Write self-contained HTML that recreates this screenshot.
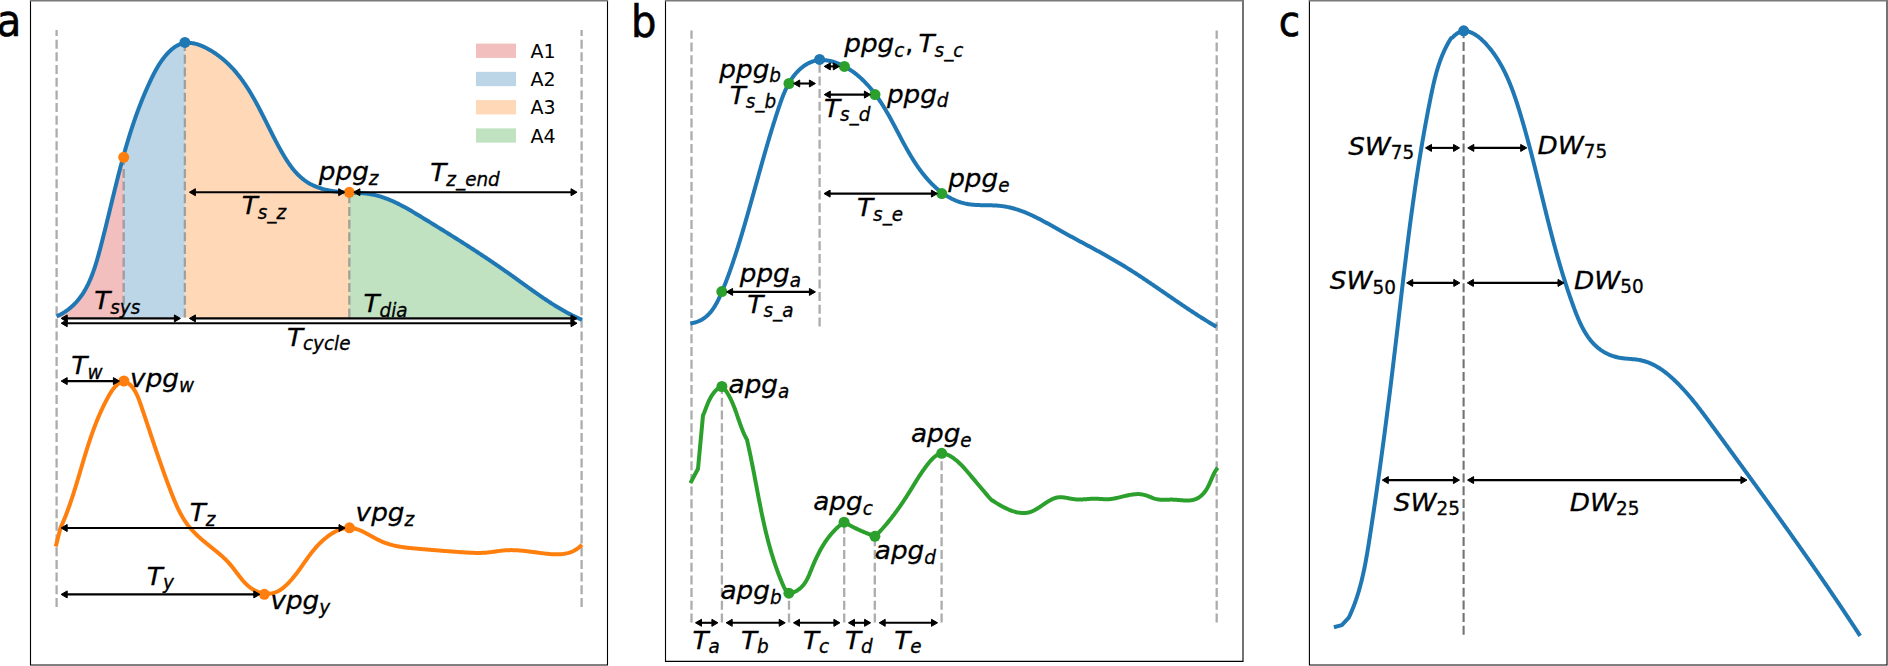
<!DOCTYPE html>
<html><head><meta charset="utf-8"><style>
html,body{margin:0;padding:0;background:#fff;overflow:hidden;}
svg{display:block;}
text{font-family:'DejaVu Sans',sans-serif;fill:#000;}
text.m{stroke:#000;stroke-width:0.3px;}
</style></head><body>
<svg width="1888" height="666" viewBox="0 0 1888 666">
<rect x="0" y="0" width="1888" height="666" fill="#fff"/>
<path d="M30.5,0 V665.0 H607.5 V0" fill="none" stroke="#000" stroke-width="1.1"/>
<rect x="29.95" y="0" width="578.1" height="1.5" fill="#7a7a7a"/>
<path d="M665.5,0 V661.4 H1243.0 V0" fill="none" stroke="#000" stroke-width="1.1"/>
<rect x="664.95" y="0" width="578.6" height="1.5" fill="#7a7a7a"/>
<path d="M1309.4,0 V665.0 H1887.0 V0" fill="none" stroke="#000" stroke-width="1.1"/>
<rect x="1308.8500000000001" y="0" width="578.6999999999999" height="1.5" fill="#7a7a7a"/>
<text x="-3.17" y="36.40" style="font-family:'DejaVu Sans Condensed',sans-serif;font-size:44.5px;font-weight:normal;stroke:#000;stroke-width:0.6px;">a</text>
<text x="630.96" y="36.60" style="font-family:'DejaVu Sans Condensed',sans-serif;font-size:44.5px;font-weight:normal;stroke:#000;stroke-width:0.6px;">b</text>
<text x="1278.82" y="36.00" style="font-family:'DejaVu Sans Condensed',sans-serif;font-size:43.2px;font-weight:normal;stroke:#000;stroke-width:0.6px;">c</text>
<path d="M56.50,317.50 L56.50,316.32 L56.63,316.32 L57.62,315.88 L58.59,315.41 L59.54,314.94 L60.48,314.45 L61.40,313.95 L62.31,313.44 L63.20,312.91 L64.07,312.38 L64.93,311.83 L65.78,311.27 L66.61,310.69 L67.43,310.11 L68.23,309.51 L69.02,308.91 L69.79,308.29 L70.56,307.66 L71.30,307.02 L72.04,306.37 L72.76,305.71 L73.47,305.04 L74.16,304.36 L74.85,303.67 L75.52,302.97 L76.18,302.26 L76.82,301.54 L77.46,300.81 L78.08,300.07 L78.69,299.32 L79.30,298.57 L79.88,297.80 L80.46,297.03 L81.03,296.25 L81.59,295.46 L82.14,294.66 L82.67,293.85 L83.20,293.04 L83.72,292.22 L84.22,291.39 L84.72,290.56 L85.21,289.72 L85.69,288.87 L86.16,288.01 L86.62,287.15 L87.07,286.28 L87.52,285.41 L87.96,284.53 L88.38,283.64 L88.80,282.75 L89.22,281.85 L89.62,280.95 L90.02,280.04 L90.41,279.13 L90.80,278.21 L91.18,277.28 L91.55,276.36 L91.91,275.42 L92.27,274.49 L92.62,273.55 L92.97,272.60 L93.31,271.65 L93.65,270.70 L93.98,269.75 L94.30,268.79 L94.63,267.83 L94.94,266.86 L95.25,265.90 L95.56,264.93 L95.86,263.95 L96.16,262.98 L96.46,262.00 L96.75,261.02 L97.04,260.04 L97.32,259.06 L97.60,258.07 L97.88,257.09 L98.16,256.10 L98.43,255.11 L98.70,254.13 L98.97,253.14 L99.24,252.15 L99.51,251.16 L99.77,250.17 L100.03,249.18 L100.29,248.19 L100.55,247.20 L100.81,246.21 L101.07,245.22 L101.33,244.23 L101.58,243.24 L101.84,242.25 L102.09,241.26 L102.35,240.27 L102.60,239.29 L102.85,238.30 L103.10,237.31 L103.35,236.32 L103.60,235.34 L103.85,234.35 L104.10,233.36 L104.34,232.38 L104.59,231.39 L104.84,230.41 L105.08,229.42 L105.33,228.44 L105.57,227.45 L105.81,226.47 L106.06,225.49 L106.30,224.50 L106.54,223.52 L106.78,222.54 L107.02,221.55 L107.26,220.57 L107.50,219.59 L107.74,218.61 L107.98,217.63 L108.22,216.64 L108.46,215.66 L108.69,214.68 L108.93,213.70 L109.17,212.72 L109.41,211.74 L109.64,210.77 L109.88,209.79 L110.12,208.81 L110.36,207.83 L110.59,206.85 L110.83,205.88 L111.06,204.90 L111.30,203.92 L111.54,202.95 L111.77,201.97 L112.01,200.99 L112.25,200.02 L112.48,199.04 L112.72,198.07 L112.96,197.09 L113.19,196.12 L113.43,195.15 L113.67,194.17 L113.91,193.20 L114.14,192.23 L114.38,191.26 L114.62,190.28 L114.86,189.31 L115.10,188.34 L115.34,187.37 L115.58,186.40 L115.82,185.43 L116.06,184.46 L116.30,183.49 L116.54,182.52 L116.78,181.56 L117.03,180.59 L117.27,179.62 L117.51,178.65 L117.76,177.69 L118.00,176.72 L118.25,175.75 L118.49,174.79 L118.74,173.82 L118.99,172.86 L119.24,171.89 L119.49,170.93 L119.74,169.97 L119.99,169.00 L120.24,168.04 L120.49,167.08 L120.74,166.12 L121.00,165.16 L121.25,164.19 L121.51,163.23 L121.77,162.27 L122.02,161.31 L122.28,160.35 L122.54,159.40 L122.81,158.44 L123.07,157.48 L123.33,156.52 L123.60,155.56 L123.70,155.19 L123.70,317.50 Z" fill="#f3bebe" stroke="none"/>
<path d="M123.70,317.50 L123.70,155.19 L123.86,154.61 L124.13,153.65 L124.40,152.69 L124.67,151.74 L124.94,150.78 L125.21,149.83 L125.48,148.88 L125.76,147.92 L126.03,146.97 L126.31,146.02 L126.59,145.06 L126.87,144.11 L127.15,143.16 L127.43,142.21 L127.72,141.26 L128.00,140.31 L128.29,139.36 L128.58,138.41 L128.87,137.46 L129.16,136.51 L129.45,135.57 L129.75,134.62 L130.05,133.67 L130.35,132.73 L130.65,131.78 L130.95,130.83 L131.25,129.89 L131.56,128.95 L131.87,128.00 L132.18,127.06 L132.49,126.12 L132.80,125.17 L133.12,124.23 L133.43,123.29 L133.75,122.35 L134.07,121.41 L134.40,120.47 L134.72,119.53 L135.05,118.59 L135.38,117.65 L135.71,116.71 L136.04,115.78 L136.38,114.84 L136.72,113.90 L137.06,112.97 L137.40,112.03 L137.74,111.10 L138.09,110.16 L138.44,109.23 L138.79,108.30 L139.14,107.37 L139.50,106.43 L139.86,105.50 L140.22,104.57 L140.58,103.64 L140.95,102.71 L141.31,101.78 L141.68,100.85 L142.06,99.92 L142.43,99.00 L142.81,98.07 L143.19,97.14 L143.57,96.22 L143.96,95.29 L144.35,94.37 L144.74,93.44 L145.13,92.52 L145.53,91.59 L145.93,90.67 L146.33,89.75 L146.74,88.83 L147.15,87.91 L147.56,86.99 L147.97,86.07 L148.39,85.15 L148.81,84.23 L149.23,83.31 L149.65,82.39 L150.08,81.47 L150.51,80.56 L150.95,79.64 L151.39,78.73 L151.83,77.81 L152.27,76.90 L152.73,75.99 L153.18,75.08 L153.64,74.17 L154.11,73.27 L154.58,72.37 L155.06,71.47 L155.55,70.57 L156.04,69.68 L156.55,68.79 L157.06,67.90 L157.58,67.02 L158.10,66.14 L158.64,65.27 L159.19,64.40 L159.74,63.54 L160.31,62.68 L160.89,61.82 L161.47,60.98 L162.07,60.13 L162.69,59.30 L163.31,58.47 L163.95,57.64 L164.60,56.83 L165.26,56.02 L165.94,55.21 L166.62,54.42 L167.33,53.64 L168.04,52.88 L168.77,52.13 L169.51,51.40 L170.26,50.68 L171.02,49.99 L171.79,49.32 L172.58,48.67 L173.37,48.05 L174.18,47.46 L174.99,46.89 L175.82,46.36 L176.65,45.86 L177.50,45.39 L178.35,44.96 L179.22,44.57 L180.09,44.22 L180.97,43.90 L181.86,43.63 L182.76,43.41 L183.66,43.22 L184.57,43.06 L184.90,43.02 L184.90,317.50 Z" fill="#bcd6e8" stroke="none"/>
<path d="M184.90,317.50 L184.90,43.02 L185.49,42.95 L186.41,42.88 L187.34,42.83 L188.27,42.83 L189.21,42.86 L190.15,42.92 L191.09,43.01 L192.04,43.13 L192.99,43.28 L193.94,43.46 L194.89,43.67 L195.84,43.91 L196.79,44.17 L197.74,44.46 L198.70,44.77 L199.64,45.10 L200.59,45.45 L201.54,45.83 L202.48,46.22 L203.42,46.64 L204.35,47.07 L205.28,47.52 L206.21,47.98 L207.13,48.46 L208.05,48.96 L208.95,49.46 L209.85,49.98 L210.75,50.51 L211.63,51.05 L212.51,51.59 L213.38,52.15 L214.24,52.71 L215.09,53.28 L215.93,53.86 L216.77,54.44 L217.59,55.04 L218.41,55.63 L219.21,56.24 L220.01,56.85 L220.80,57.47 L221.59,58.10 L222.36,58.73 L223.13,59.37 L223.89,60.02 L224.64,60.67 L225.38,61.33 L226.12,61.99 L226.84,62.66 L227.57,63.34 L228.28,64.02 L228.99,64.71 L229.69,65.41 L230.38,66.11 L231.06,66.82 L231.74,67.53 L232.42,68.25 L233.08,68.97 L233.74,69.70 L234.39,70.43 L235.04,71.17 L235.68,71.92 L236.32,72.67 L236.95,73.42 L237.57,74.18 L238.19,74.94 L238.80,75.71 L239.40,76.49 L240.00,77.27 L240.60,78.05 L241.19,78.84 L241.77,79.63 L242.35,80.42 L242.93,81.22 L243.50,82.03 L244.06,82.84 L244.62,83.65 L245.18,84.47 L245.73,85.29 L246.28,86.11 L246.82,86.94 L247.36,87.77 L247.89,88.60 L248.42,89.44 L248.95,90.28 L249.47,91.13 L249.99,91.97 L250.51,92.83 L251.02,93.68 L251.53,94.54 L252.04,95.40 L252.54,96.26 L253.04,97.13 L253.54,97.99 L254.03,98.86 L254.52,99.74 L255.01,100.61 L255.49,101.49 L255.98,102.37 L256.46,103.25 L256.94,104.14 L257.41,105.02 L257.89,105.91 L258.36,106.80 L258.83,107.69 L259.30,108.59 L259.77,109.48 L260.24,110.38 L260.70,111.28 L261.16,112.18 L261.62,113.08 L262.08,113.98 L262.54,114.88 L263.00,115.79 L263.46,116.69 L263.92,117.60 L264.37,118.51 L264.83,119.41 L265.29,120.32 L265.74,121.23 L266.20,122.14 L266.65,123.05 L267.10,123.96 L267.56,124.87 L268.01,125.78 L268.47,126.70 L268.92,127.61 L269.38,128.52 L269.84,129.43 L270.29,130.34 L270.75,131.25 L271.21,132.16 L271.67,133.07 L272.13,133.98 L272.59,134.89 L273.05,135.80 L273.52,136.70 L273.98,137.61 L274.45,138.51 L274.92,139.42 L275.39,140.32 L275.86,141.22 L276.34,142.13 L276.81,143.03 L277.29,143.92 L277.77,144.82 L278.26,145.72 L278.74,146.61 L279.23,147.50 L279.72,148.39 L280.21,149.28 L280.71,150.17 L281.21,151.05 L281.71,151.93 L282.22,152.81 L282.73,153.69 L283.24,154.57 L283.76,155.44 L284.28,156.31 L284.80,157.17 L285.33,158.03 L285.86,158.89 L286.40,159.74 L286.95,160.58 L287.50,161.43 L288.05,162.26 L288.62,163.09 L289.18,163.91 L289.76,164.72 L290.34,165.53 L290.93,166.33 L291.52,167.13 L292.12,167.91 L292.73,168.69 L293.35,169.45 L293.98,170.21 L294.61,170.96 L295.25,171.70 L295.90,172.43 L296.56,173.15 L297.23,173.85 L297.91,174.55 L298.60,175.23 L299.30,175.91 L300.01,176.57 L300.72,177.22 L301.45,177.85 L302.19,178.47 L302.95,179.08 L303.71,179.68 L304.48,180.26 L305.27,180.83 L306.07,181.38 L306.88,181.92 L307.70,182.44 L308.53,182.94 L309.38,183.43 L310.24,183.91 L311.11,184.37 L311.98,184.82 L312.87,185.25 L313.77,185.67 L314.68,186.07 L315.60,186.46 L316.52,186.83 L317.46,187.19 L318.40,187.54 L319.35,187.87 L320.30,188.19 L321.26,188.49 L322.23,188.79 L323.20,189.07 L324.18,189.33 L325.17,189.58 L326.16,189.82 L327.15,190.05 L328.14,190.27 L329.14,190.47 L330.14,190.66 L331.15,190.83 L332.16,191.00 L333.16,191.15 L334.17,191.29 L335.18,191.43 L336.20,191.55 L337.21,191.66 L338.22,191.76 L339.24,191.85 L340.25,191.94 L341.27,192.02 L342.28,192.09 L343.30,192.15 L344.32,192.21 L345.33,192.27 L346.35,192.32 L347.36,192.37 L348.38,192.42 L349.30,192.46 L349.30,317.50 Z" fill="#ffd9b7" stroke="none"/>
<path d="M349.30,317.50 L349.30,192.46 L349.39,192.47 L350.41,192.51 L351.42,192.55 L352.43,192.60 L353.45,192.64 L354.46,192.69 L355.47,192.74 L356.47,192.79 L357.48,192.84 L358.48,192.90 L359.49,192.96 L360.49,193.03 L361.49,193.10 L362.48,193.19 L363.48,193.27 L364.47,193.37 L365.46,193.48 L366.44,193.59 L367.43,193.71 L368.41,193.85 L369.39,194.00 L370.36,194.15 L371.33,194.33 L372.30,194.51 L373.27,194.70 L374.23,194.91 L375.19,195.13 L376.14,195.36 L377.10,195.61 L378.05,195.86 L378.99,196.13 L379.94,196.40 L380.88,196.69 L381.81,196.99 L382.75,197.29 L383.68,197.61 L384.61,197.94 L385.54,198.27 L386.47,198.62 L387.39,198.97 L388.31,199.34 L389.23,199.71 L390.14,200.09 L391.05,200.48 L391.97,200.87 L392.87,201.28 L393.78,201.69 L394.68,202.10 L395.59,202.53 L396.49,202.96 L397.39,203.40 L398.28,203.84 L399.18,204.29 L400.07,204.75 L400.96,205.21 L401.85,205.68 L402.74,206.15 L403.63,206.63 L404.51,207.11 L405.39,207.60 L406.28,208.09 L407.16,208.58 L408.04,209.08 L408.91,209.58 L409.79,210.08 L410.67,210.59 L411.54,211.10 L412.41,211.62 L413.28,212.13 L414.16,212.65 L415.03,213.17 L415.90,213.69 L416.76,214.21 L417.63,214.74 L418.50,215.26 L419.37,215.79 L420.23,216.32 L421.10,216.84 L421.96,217.37 L422.82,217.90 L423.69,218.42 L424.55,218.95 L425.41,219.48 L426.28,220.00 L427.14,220.53 L428.00,221.06 L428.86,221.58 L429.72,222.11 L430.58,222.64 L431.44,223.16 L432.30,223.69 L433.15,224.22 L434.01,224.74 L434.87,225.27 L435.73,225.80 L436.58,226.33 L437.44,226.85 L438.29,227.38 L439.15,227.91 L440.00,228.44 L440.86,228.96 L441.71,229.49 L442.56,230.02 L443.41,230.55 L444.27,231.08 L445.12,231.61 L445.97,232.14 L446.82,232.66 L447.67,233.19 L448.52,233.72 L449.37,234.25 L450.22,234.78 L451.06,235.32 L451.91,235.85 L452.76,236.38 L453.61,236.91 L454.45,237.44 L455.30,237.97 L456.14,238.51 L456.99,239.04 L457.83,239.57 L458.68,240.11 L459.52,240.64 L460.37,241.18 L461.21,241.71 L462.05,242.25 L462.89,242.78 L463.73,243.32 L464.58,243.86 L465.42,244.40 L466.26,244.93 L467.10,245.47 L467.94,246.01 L468.77,246.55 L469.61,247.09 L470.45,247.63 L471.29,248.17 L472.13,248.72 L472.96,249.26 L473.80,249.80 L474.64,250.35 L475.47,250.89 L476.31,251.44 L477.14,251.98 L477.98,252.53 L478.81,253.07 L479.64,253.62 L480.48,254.17 L481.31,254.72 L482.14,255.27 L482.97,255.82 L483.80,256.37 L484.64,256.92 L485.47,257.48 L486.30,258.03 L487.13,258.59 L487.96,259.14 L488.79,259.70 L489.61,260.25 L490.44,260.81 L491.27,261.37 L492.10,261.93 L492.93,262.49 L493.75,263.05 L494.58,263.61 L495.40,264.18 L496.23,264.74 L497.06,265.31 L497.88,265.87 L498.71,266.44 L499.53,267.01 L500.35,267.58 L501.18,268.15 L502.00,268.72 L502.82,269.29 L503.64,269.86 L504.47,270.43 L505.29,271.01 L506.11,271.59 L506.93,272.16 L507.75,272.74 L508.57,273.32 L509.39,273.90 L510.21,274.48 L511.03,275.06 L511.85,275.65 L512.67,276.23 L513.48,276.82 L514.30,277.40 L515.12,277.99 L515.94,278.58 L516.76,279.17 L517.57,279.75 L518.39,280.34 L519.21,280.93 L520.02,281.52 L520.84,282.11 L521.66,282.70 L522.48,283.29 L523.29,283.88 L524.11,284.47 L524.93,285.06 L525.75,285.65 L526.57,286.24 L527.39,286.82 L528.21,287.41 L529.03,288.00 L529.85,288.58 L530.67,289.17 L531.49,289.75 L532.31,290.34 L533.13,290.92 L533.95,291.50 L534.77,292.08 L535.60,292.66 L536.42,293.24 L537.25,293.81 L538.07,294.39 L538.90,294.96 L539.73,295.53 L540.55,296.10 L541.38,296.67 L542.21,297.23 L543.04,297.80 L543.88,298.36 L544.71,298.92 L545.54,299.48 L546.38,300.03 L547.21,300.59 L548.05,301.14 L548.89,301.68 L549.73,302.23 L550.57,302.77 L551.41,303.31 L552.25,303.85 L553.09,304.38 L553.94,304.91 L554.79,305.44 L555.63,305.96 L556.48,306.49 L557.34,307.00 L558.19,307.52 L559.04,308.03 L559.90,308.54 L560.75,309.04 L561.61,309.54 L562.47,310.04 L563.34,310.53 L564.20,311.02 L565.07,311.50 L565.93,311.98 L566.80,312.46 L567.67,312.93 L568.55,313.40 L569.42,313.86 L570.30,314.32 L571.18,314.77 L572.06,315.22 L572.94,315.67 L573.83,316.11 L574.71,316.54 L575.60,316.97 L576.49,317.40 L577.39,317.82 L578.28,318.23 L579.18,318.64 L580.08,319.04 L580.98,319.44 L581.89,319.84 L582.50,319.84 L582.50,317.50 Z" fill="#c0e2c0" stroke="none"/>
<rect x="476" y="43.60" width="40" height="14.3" fill="#f3bebe"/>
<text x="530.45" y="57.90" style="font-family:'DejaVu Sans',sans-serif;font-size:19.0px;font-weight:normal;">A1</text>
<rect x="476" y="71.85" width="40" height="14.3" fill="#bcd6e8"/>
<text x="530.45" y="86.15" style="font-family:'DejaVu Sans',sans-serif;font-size:19.0px;font-weight:normal;">A2</text>
<rect x="476" y="100.10" width="40" height="14.3" fill="#ffd9b7"/>
<text x="530.45" y="114.40" style="font-family:'DejaVu Sans',sans-serif;font-size:19.0px;font-weight:normal;">A3</text>
<rect x="476" y="128.35" width="40" height="14.3" fill="#c0e2c0"/>
<text x="530.45" y="142.65" style="font-family:'DejaVu Sans',sans-serif;font-size:19.0px;font-weight:normal;">A4</text>
<line x1="56.60" y1="607.00" x2="56.60" y2="30.00" stroke="#808080" stroke-opacity="0.65" stroke-width="2.3" stroke-dasharray="9.0 3.69" stroke-dashoffset="0"/>
<line x1="581.60" y1="607.00" x2="581.60" y2="30.00" stroke="#808080" stroke-opacity="0.65" stroke-width="2.3" stroke-dasharray="9.0 3.69" stroke-dashoffset="0"/>
<line x1="123.70" y1="317.50" x2="123.70" y2="160.00" stroke="#808080" stroke-opacity="0.65" stroke-width="2.3" stroke-dasharray="9.0 3.69" stroke-dashoffset="0"/>
<line x1="184.90" y1="317.50" x2="184.90" y2="45.00" stroke="#808080" stroke-opacity="0.65" stroke-width="2.3" stroke-dasharray="9.0 3.69" stroke-dashoffset="0"/>
<line x1="349.30" y1="317.50" x2="349.30" y2="195.00" stroke="#808080" stroke-opacity="0.65" stroke-width="2.3" stroke-dasharray="9.0 3.69" stroke-dashoffset="0"/>
<path d="M56.63,316.32 L57.62,315.88 L58.59,315.41 L59.54,314.94 L60.48,314.45 L61.40,313.95 L62.31,313.44 L63.20,312.91 L64.07,312.38 L64.93,311.83 L65.78,311.27 L66.61,310.69 L67.43,310.11 L68.23,309.51 L69.02,308.91 L69.79,308.29 L70.56,307.66 L71.30,307.02 L72.04,306.37 L72.76,305.71 L73.47,305.04 L74.16,304.36 L74.85,303.67 L75.52,302.97 L76.18,302.26 L76.82,301.54 L77.46,300.81 L78.08,300.07 L78.69,299.32 L79.30,298.57 L79.88,297.80 L80.46,297.03 L81.03,296.25 L81.59,295.46 L82.14,294.66 L82.67,293.85 L83.20,293.04 L83.72,292.22 L84.22,291.39 L84.72,290.56 L85.21,289.72 L85.69,288.87 L86.16,288.01 L86.62,287.15 L87.07,286.28 L87.52,285.41 L87.96,284.53 L88.38,283.64 L88.80,282.75 L89.22,281.85 L89.62,280.95 L90.02,280.04 L90.41,279.13 L90.80,278.21 L91.18,277.28 L91.55,276.36 L91.91,275.42 L92.27,274.49 L92.62,273.55 L92.97,272.60 L93.31,271.65 L93.65,270.70 L93.98,269.75 L94.30,268.79 L94.63,267.83 L94.94,266.86 L95.25,265.90 L95.56,264.93 L95.86,263.95 L96.16,262.98 L96.46,262.00 L96.75,261.02 L97.04,260.04 L97.32,259.06 L97.60,258.07 L97.88,257.09 L98.16,256.10 L98.43,255.11 L98.70,254.13 L98.97,253.14 L99.24,252.15 L99.51,251.16 L99.77,250.17 L100.03,249.18 L100.29,248.19 L100.55,247.20 L100.81,246.21 L101.07,245.22 L101.33,244.23 L101.58,243.24 L101.84,242.25 L102.09,241.26 L102.35,240.27 L102.60,239.29 L102.85,238.30 L103.10,237.31 L103.35,236.32 L103.60,235.34 L103.85,234.35 L104.10,233.36 L104.34,232.38 L104.59,231.39 L104.84,230.41 L105.08,229.42 L105.33,228.44 L105.57,227.45 L105.81,226.47 L106.06,225.49 L106.30,224.50 L106.54,223.52 L106.78,222.54 L107.02,221.55 L107.26,220.57 L107.50,219.59 L107.74,218.61 L107.98,217.63 L108.22,216.64 L108.46,215.66 L108.69,214.68 L108.93,213.70 L109.17,212.72 L109.41,211.74 L109.64,210.77 L109.88,209.79 L110.12,208.81 L110.36,207.83 L110.59,206.85 L110.83,205.88 L111.06,204.90 L111.30,203.92 L111.54,202.95 L111.77,201.97 L112.01,200.99 L112.25,200.02 L112.48,199.04 L112.72,198.07 L112.96,197.09 L113.19,196.12 L113.43,195.15 L113.67,194.17 L113.91,193.20 L114.14,192.23 L114.38,191.26 L114.62,190.28 L114.86,189.31 L115.10,188.34 L115.34,187.37 L115.58,186.40 L115.82,185.43 L116.06,184.46 L116.30,183.49 L116.54,182.52 L116.78,181.56 L117.03,180.59 L117.27,179.62 L117.51,178.65 L117.76,177.69 L118.00,176.72 L118.25,175.75 L118.49,174.79 L118.74,173.82 L118.99,172.86 L119.24,171.89 L119.49,170.93 L119.74,169.97 L119.99,169.00 L120.24,168.04 L120.49,167.08 L120.74,166.12 L121.00,165.16 L121.25,164.19 L121.51,163.23 L121.77,162.27 L122.02,161.31 L122.28,160.35 L122.54,159.40 L122.81,158.44 L123.07,157.48 L123.33,156.52 L123.60,155.56 L123.86,154.61 L124.13,153.65 L124.40,152.69 L124.67,151.74 L124.94,150.78 L125.21,149.83 L125.48,148.88 L125.76,147.92 L126.03,146.97 L126.31,146.02 L126.59,145.06 L126.87,144.11 L127.15,143.16 L127.43,142.21 L127.72,141.26 L128.00,140.31 L128.29,139.36 L128.58,138.41 L128.87,137.46 L129.16,136.51 L129.45,135.57 L129.75,134.62 L130.05,133.67 L130.35,132.73 L130.65,131.78 L130.95,130.83 L131.25,129.89 L131.56,128.95 L131.87,128.00 L132.18,127.06 L132.49,126.12 L132.80,125.17 L133.12,124.23 L133.43,123.29 L133.75,122.35 L134.07,121.41 L134.40,120.47 L134.72,119.53 L135.05,118.59 L135.38,117.65 L135.71,116.71 L136.04,115.78 L136.38,114.84 L136.72,113.90 L137.06,112.97 L137.40,112.03 L137.74,111.10 L138.09,110.16 L138.44,109.23 L138.79,108.30 L139.14,107.37 L139.50,106.43 L139.86,105.50 L140.22,104.57 L140.58,103.64 L140.95,102.71 L141.31,101.78 L141.68,100.85 L142.06,99.92 L142.43,99.00 L142.81,98.07 L143.19,97.14 L143.57,96.22 L143.96,95.29 L144.35,94.37 L144.74,93.44 L145.13,92.52 L145.53,91.59 L145.93,90.67 L146.33,89.75 L146.74,88.83 L147.15,87.91 L147.56,86.99 L147.97,86.07 L148.39,85.15 L148.81,84.23 L149.23,83.31 L149.65,82.39 L150.08,81.47 L150.51,80.56 L150.95,79.64 L151.39,78.73 L151.83,77.81 L152.27,76.90 L152.73,75.99 L153.18,75.08 L153.64,74.17 L154.11,73.27 L154.58,72.37 L155.06,71.47 L155.55,70.57 L156.04,69.68 L156.55,68.79 L157.06,67.90 L157.58,67.02 L158.10,66.14 L158.64,65.27 L159.19,64.40 L159.74,63.54 L160.31,62.68 L160.89,61.82 L161.47,60.98 L162.07,60.13 L162.69,59.30 L163.31,58.47 L163.95,57.64 L164.60,56.83 L165.26,56.02 L165.94,55.21 L166.62,54.42 L167.33,53.64 L168.04,52.88 L168.77,52.13 L169.51,51.40 L170.26,50.68 L171.02,49.99 L171.79,49.32 L172.58,48.67 L173.37,48.05 L174.18,47.46 L174.99,46.89 L175.82,46.36 L176.65,45.86 L177.50,45.39 L178.35,44.96 L179.22,44.57 L180.09,44.22 L180.97,43.90 L181.86,43.63 L182.76,43.41 L183.66,43.22 L184.57,43.06 L185.49,42.95 L186.41,42.88 L187.34,42.83 L188.27,42.83 L189.21,42.86 L190.15,42.92 L191.09,43.01 L192.04,43.13 L192.99,43.28 L193.94,43.46 L194.89,43.67 L195.84,43.91 L196.79,44.17 L197.74,44.46 L198.70,44.77 L199.64,45.10 L200.59,45.45 L201.54,45.83 L202.48,46.22 L203.42,46.64 L204.35,47.07 L205.28,47.52 L206.21,47.98 L207.13,48.46 L208.05,48.96 L208.95,49.46 L209.85,49.98 L210.75,50.51 L211.63,51.05 L212.51,51.59 L213.38,52.15 L214.24,52.71 L215.09,53.28 L215.93,53.86 L216.77,54.44 L217.59,55.04 L218.41,55.63 L219.21,56.24 L220.01,56.85 L220.80,57.47 L221.59,58.10 L222.36,58.73 L223.13,59.37 L223.89,60.02 L224.64,60.67 L225.38,61.33 L226.12,61.99 L226.84,62.66 L227.57,63.34 L228.28,64.02 L228.99,64.71 L229.69,65.41 L230.38,66.11 L231.06,66.82 L231.74,67.53 L232.42,68.25 L233.08,68.97 L233.74,69.70 L234.39,70.43 L235.04,71.17 L235.68,71.92 L236.32,72.67 L236.95,73.42 L237.57,74.18 L238.19,74.94 L238.80,75.71 L239.40,76.49 L240.00,77.27 L240.60,78.05 L241.19,78.84 L241.77,79.63 L242.35,80.42 L242.93,81.22 L243.50,82.03 L244.06,82.84 L244.62,83.65 L245.18,84.47 L245.73,85.29 L246.28,86.11 L246.82,86.94 L247.36,87.77 L247.89,88.60 L248.42,89.44 L248.95,90.28 L249.47,91.13 L249.99,91.97 L250.51,92.83 L251.02,93.68 L251.53,94.54 L252.04,95.40 L252.54,96.26 L253.04,97.13 L253.54,97.99 L254.03,98.86 L254.52,99.74 L255.01,100.61 L255.49,101.49 L255.98,102.37 L256.46,103.25 L256.94,104.14 L257.41,105.02 L257.89,105.91 L258.36,106.80 L258.83,107.69 L259.30,108.59 L259.77,109.48 L260.24,110.38 L260.70,111.28 L261.16,112.18 L261.62,113.08 L262.08,113.98 L262.54,114.88 L263.00,115.79 L263.46,116.69 L263.92,117.60 L264.37,118.51 L264.83,119.41 L265.29,120.32 L265.74,121.23 L266.20,122.14 L266.65,123.05 L267.10,123.96 L267.56,124.87 L268.01,125.78 L268.47,126.70 L268.92,127.61 L269.38,128.52 L269.84,129.43 L270.29,130.34 L270.75,131.25 L271.21,132.16 L271.67,133.07 L272.13,133.98 L272.59,134.89 L273.05,135.80 L273.52,136.70 L273.98,137.61 L274.45,138.51 L274.92,139.42 L275.39,140.32 L275.86,141.22 L276.34,142.13 L276.81,143.03 L277.29,143.92 L277.77,144.82 L278.26,145.72 L278.74,146.61 L279.23,147.50 L279.72,148.39 L280.21,149.28 L280.71,150.17 L281.21,151.05 L281.71,151.93 L282.22,152.81 L282.73,153.69 L283.24,154.57 L283.76,155.44 L284.28,156.31 L284.80,157.17 L285.33,158.03 L285.86,158.89 L286.40,159.74 L286.95,160.58 L287.50,161.43 L288.05,162.26 L288.62,163.09 L289.18,163.91 L289.76,164.72 L290.34,165.53 L290.93,166.33 L291.52,167.13 L292.12,167.91 L292.73,168.69 L293.35,169.45 L293.98,170.21 L294.61,170.96 L295.25,171.70 L295.90,172.43 L296.56,173.15 L297.23,173.85 L297.91,174.55 L298.60,175.23 L299.30,175.91 L300.01,176.57 L300.72,177.22 L301.45,177.85 L302.19,178.47 L302.95,179.08 L303.71,179.68 L304.48,180.26 L305.27,180.83 L306.07,181.38 L306.88,181.92 L307.70,182.44 L308.53,182.94 L309.38,183.43 L310.24,183.91 L311.11,184.37 L311.98,184.82 L312.87,185.25 L313.77,185.67 L314.68,186.07 L315.60,186.46 L316.52,186.83 L317.46,187.19 L318.40,187.54 L319.35,187.87 L320.30,188.19 L321.26,188.49 L322.23,188.79 L323.20,189.07 L324.18,189.33 L325.17,189.58 L326.16,189.82 L327.15,190.05 L328.14,190.27 L329.14,190.47 L330.14,190.66 L331.15,190.83 L332.16,191.00 L333.16,191.15 L334.17,191.29 L335.18,191.43 L336.20,191.55 L337.21,191.66 L338.22,191.76 L339.24,191.85 L340.25,191.94 L341.27,192.02 L342.28,192.09 L343.30,192.15 L344.32,192.21 L345.33,192.27 L346.35,192.32 L347.36,192.37 L348.38,192.42 L349.39,192.47 L350.41,192.51 L351.42,192.55 L352.43,192.60 L353.45,192.64 L354.46,192.69 L355.47,192.74 L356.47,192.79 L357.48,192.84 L358.48,192.90 L359.49,192.96 L360.49,193.03 L361.49,193.10 L362.48,193.19 L363.48,193.27 L364.47,193.37 L365.46,193.48 L366.44,193.59 L367.43,193.71 L368.41,193.85 L369.39,194.00 L370.36,194.15 L371.33,194.33 L372.30,194.51 L373.27,194.70 L374.23,194.91 L375.19,195.13 L376.14,195.36 L377.10,195.61 L378.05,195.86 L378.99,196.13 L379.94,196.40 L380.88,196.69 L381.81,196.99 L382.75,197.29 L383.68,197.61 L384.61,197.94 L385.54,198.27 L386.47,198.62 L387.39,198.97 L388.31,199.34 L389.23,199.71 L390.14,200.09 L391.05,200.48 L391.97,200.87 L392.87,201.28 L393.78,201.69 L394.68,202.10 L395.59,202.53 L396.49,202.96 L397.39,203.40 L398.28,203.84 L399.18,204.29 L400.07,204.75 L400.96,205.21 L401.85,205.68 L402.74,206.15 L403.63,206.63 L404.51,207.11 L405.39,207.60 L406.28,208.09 L407.16,208.58 L408.04,209.08 L408.91,209.58 L409.79,210.08 L410.67,210.59 L411.54,211.10 L412.41,211.62 L413.28,212.13 L414.16,212.65 L415.03,213.17 L415.90,213.69 L416.76,214.21 L417.63,214.74 L418.50,215.26 L419.37,215.79 L420.23,216.32 L421.10,216.84 L421.96,217.37 L422.82,217.90 L423.69,218.42 L424.55,218.95 L425.41,219.48 L426.28,220.00 L427.14,220.53 L428.00,221.06 L428.86,221.58 L429.72,222.11 L430.58,222.64 L431.44,223.16 L432.30,223.69 L433.15,224.22 L434.01,224.74 L434.87,225.27 L435.73,225.80 L436.58,226.33 L437.44,226.85 L438.29,227.38 L439.15,227.91 L440.00,228.44 L440.86,228.96 L441.71,229.49 L442.56,230.02 L443.41,230.55 L444.27,231.08 L445.12,231.61 L445.97,232.14 L446.82,232.66 L447.67,233.19 L448.52,233.72 L449.37,234.25 L450.22,234.78 L451.06,235.32 L451.91,235.85 L452.76,236.38 L453.61,236.91 L454.45,237.44 L455.30,237.97 L456.14,238.51 L456.99,239.04 L457.83,239.57 L458.68,240.11 L459.52,240.64 L460.37,241.18 L461.21,241.71 L462.05,242.25 L462.89,242.78 L463.73,243.32 L464.58,243.86 L465.42,244.40 L466.26,244.93 L467.10,245.47 L467.94,246.01 L468.77,246.55 L469.61,247.09 L470.45,247.63 L471.29,248.17 L472.13,248.72 L472.96,249.26 L473.80,249.80 L474.64,250.35 L475.47,250.89 L476.31,251.44 L477.14,251.98 L477.98,252.53 L478.81,253.07 L479.64,253.62 L480.48,254.17 L481.31,254.72 L482.14,255.27 L482.97,255.82 L483.80,256.37 L484.64,256.92 L485.47,257.48 L486.30,258.03 L487.13,258.59 L487.96,259.14 L488.79,259.70 L489.61,260.25 L490.44,260.81 L491.27,261.37 L492.10,261.93 L492.93,262.49 L493.75,263.05 L494.58,263.61 L495.40,264.18 L496.23,264.74 L497.06,265.31 L497.88,265.87 L498.71,266.44 L499.53,267.01 L500.35,267.58 L501.18,268.15 L502.00,268.72 L502.82,269.29 L503.64,269.86 L504.47,270.43 L505.29,271.01 L506.11,271.59 L506.93,272.16 L507.75,272.74 L508.57,273.32 L509.39,273.90 L510.21,274.48 L511.03,275.06 L511.85,275.65 L512.67,276.23 L513.48,276.82 L514.30,277.40 L515.12,277.99 L515.94,278.58 L516.76,279.17 L517.57,279.75 L518.39,280.34 L519.21,280.93 L520.02,281.52 L520.84,282.11 L521.66,282.70 L522.48,283.29 L523.29,283.88 L524.11,284.47 L524.93,285.06 L525.75,285.65 L526.57,286.24 L527.39,286.82 L528.21,287.41 L529.03,288.00 L529.85,288.58 L530.67,289.17 L531.49,289.75 L532.31,290.34 L533.13,290.92 L533.95,291.50 L534.77,292.08 L535.60,292.66 L536.42,293.24 L537.25,293.81 L538.07,294.39 L538.90,294.96 L539.73,295.53 L540.55,296.10 L541.38,296.67 L542.21,297.23 L543.04,297.80 L543.88,298.36 L544.71,298.92 L545.54,299.48 L546.38,300.03 L547.21,300.59 L548.05,301.14 L548.89,301.68 L549.73,302.23 L550.57,302.77 L551.41,303.31 L552.25,303.85 L553.09,304.38 L553.94,304.91 L554.79,305.44 L555.63,305.96 L556.48,306.49 L557.34,307.00 L558.19,307.52 L559.04,308.03 L559.90,308.54 L560.75,309.04 L561.61,309.54 L562.47,310.04 L563.34,310.53 L564.20,311.02 L565.07,311.50 L565.93,311.98 L566.80,312.46 L567.67,312.93 L568.55,313.40 L569.42,313.86 L570.30,314.32 L571.18,314.77 L572.06,315.22 L572.94,315.67 L573.83,316.11 L574.71,316.54 L575.60,316.97 L576.49,317.40 L577.39,317.82 L578.28,318.23 L579.18,318.64 L580.08,319.04 L580.98,319.44 L581.89,319.84" fill="none" stroke="#1f77b4" stroke-width="4.0" stroke-linejoin="round" stroke-linecap="butt" />
<path d="M55.80,546.60 L60.30,528.60 L60.62,527.69 L61.04,526.77 L61.45,525.84 L61.86,524.92 L62.26,523.99 L62.66,523.07 L63.05,522.14 L63.44,521.21 L63.83,520.28 L64.21,519.35 L64.59,518.41 L64.96,517.48 L65.34,516.55 L65.70,515.61 L66.07,514.68 L66.43,513.74 L66.79,512.80 L67.14,511.86 L67.49,510.92 L67.84,509.98 L68.19,509.04 L68.53,508.10 L68.87,507.15 L69.21,506.21 L69.54,505.26 L69.87,504.32 L70.20,503.37 L70.53,502.42 L70.85,501.48 L71.18,500.53 L71.50,499.58 L71.81,498.63 L72.13,497.68 L72.44,496.73 L72.75,495.78 L73.06,494.83 L73.37,493.87 L73.67,492.92 L73.98,491.97 L74.28,491.01 L74.58,490.06 L74.88,489.10 L75.17,488.15 L75.47,487.19 L75.77,486.24 L76.06,485.28 L76.35,484.32 L76.64,483.37 L76.93,482.41 L77.22,481.45 L77.51,480.49 L77.80,479.54 L78.08,478.58 L78.37,477.62 L78.66,476.66 L78.94,475.70 L79.23,474.74 L79.51,473.79 L79.79,472.83 L80.08,471.87 L80.36,470.91 L80.64,469.95 L80.93,468.99 L81.21,468.03 L81.49,467.07 L81.78,466.12 L82.06,465.16 L82.35,464.20 L82.63,463.24 L82.92,462.28 L83.20,461.32 L83.49,460.36 L83.77,459.41 L84.06,458.45 L84.35,457.49 L84.64,456.54 L84.93,455.58 L85.22,454.62 L85.51,453.67 L85.81,452.71 L86.10,451.75 L86.40,450.80 L86.70,449.84 L87.00,448.89 L87.30,447.94 L87.60,446.98 L87.90,446.03 L88.21,445.08 L88.52,444.13 L88.83,443.18 L89.14,442.23 L89.45,441.28 L89.77,440.33 L90.08,439.38 L90.40,438.43 L90.73,437.48 L91.05,436.53 L91.38,435.59 L91.71,434.64 L92.04,433.70 L92.37,432.75 L92.71,431.81 L93.05,430.87 L93.39,429.93 L93.74,428.99 L94.09,428.05 L94.44,427.11 L94.80,426.17 L95.16,425.23 L95.52,424.30 L95.88,423.36 L96.25,422.43 L96.63,421.50 L97.00,420.56 L97.38,419.63 L97.77,418.70 L98.15,417.77 L98.54,416.85 L98.94,415.92 L99.34,415.00 L99.74,414.07 L100.15,413.15 L100.56,412.23 L100.98,411.31 L101.40,410.39 L101.82,409.47 L102.25,408.55 L102.68,407.64 L103.12,406.72 L103.57,405.81 L104.01,404.90 L104.47,403.99 L104.92,403.08 L105.39,402.17 L105.86,401.27 L106.33,400.36 L106.81,399.46 L107.29,398.56 L107.78,397.66 L108.27,396.76 L108.77,395.87 L109.28,394.97 L109.80,394.09 L110.33,393.21 L110.87,392.33 L111.42,391.47 L111.99,390.63 L112.59,389.80 L113.20,388.98 L113.83,388.18 L114.49,387.41 L115.18,386.66 L115.90,385.93 L116.64,385.23 L117.42,384.57 L118.22,383.95 L119.04,383.38 L119.87,382.88 L120.72,382.46 L121.58,382.12 L122.44,381.88 L123.30,381.75 L124.15,381.74 L125.00,381.84 L125.83,382.06 L126.66,382.39 L127.47,382.80 L128.26,383.31 L129.03,383.88 L129.79,384.52 L130.52,385.22 L131.23,385.96 L131.91,386.74 L132.56,387.54 L133.18,388.36 L133.77,389.20 L134.33,390.06 L134.87,390.92 L135.38,391.80 L135.87,392.69 L136.34,393.59 L136.79,394.51 L137.22,395.43 L137.63,396.36 L138.03,397.30 L138.42,398.24 L138.79,399.19 L139.15,400.15 L139.50,401.11 L139.85,402.07 L140.18,403.03 L140.52,404.00 L140.85,404.97 L141.18,405.93 L141.51,406.90 L141.84,407.86 L142.16,408.83 L142.49,409.79 L142.82,410.76 L143.14,411.72 L143.47,412.68 L143.79,413.64 L144.11,414.60 L144.44,415.56 L144.76,416.52 L145.08,417.48 L145.40,418.44 L145.72,419.40 L146.04,420.36 L146.37,421.31 L146.68,422.27 L147.00,423.23 L147.32,424.18 L147.64,425.14 L147.96,426.09 L148.28,427.05 L148.60,428.00 L148.92,428.95 L149.23,429.91 L149.55,430.86 L149.87,431.81 L150.19,432.76 L150.50,433.71 L150.82,434.66 L151.14,435.61 L151.46,436.56 L151.77,437.51 L152.09,438.46 L152.41,439.41 L152.72,440.36 L153.04,441.31 L153.36,442.26 L153.68,443.20 L154.00,444.15 L154.32,445.10 L154.63,446.04 L154.95,446.99 L155.27,447.93 L155.59,448.88 L155.91,449.82 L156.23,450.77 L156.55,451.71 L156.87,452.66 L157.20,453.60 L157.52,454.54 L157.84,455.49 L158.17,456.43 L158.49,457.37 L158.81,458.32 L159.14,459.26 L159.46,460.20 L159.79,461.14 L160.12,462.09 L160.45,463.03 L160.77,463.97 L161.10,464.91 L161.43,465.85 L161.76,466.79 L162.10,467.73 L162.43,468.67 L162.76,469.61 L163.10,470.55 L163.43,471.50 L163.77,472.44 L164.11,473.38 L164.45,474.32 L164.79,475.26 L165.13,476.20 L165.47,477.14 L165.81,478.08 L166.15,479.01 L166.50,479.95 L166.85,480.89 L167.19,481.83 L167.54,482.77 L167.89,483.71 L168.24,484.65 L168.60,485.59 L168.95,486.53 L169.31,487.47 L169.66,488.41 L170.02,489.35 L170.38,490.29 L170.74,491.23 L171.11,492.17 L171.47,493.11 L171.84,494.05 L172.21,494.99 L172.58,495.93 L172.95,496.86 L173.33,497.80 L173.70,498.74 L174.09,499.67 L174.47,500.60 L174.86,501.53 L175.26,502.46 L175.66,503.39 L176.06,504.31 L176.47,505.23 L176.88,506.15 L177.30,507.07 L177.73,507.98 L178.16,508.88 L178.60,509.79 L179.04,510.69 L179.49,511.58 L179.95,512.47 L180.42,513.36 L180.89,514.24 L181.37,515.12 L181.86,515.99 L182.36,516.85 L182.87,517.71 L183.38,518.57 L183.91,519.41 L184.44,520.25 L184.99,521.09 L185.54,521.91 L186.10,522.73 L186.68,523.55 L187.27,524.35 L187.86,525.15 L188.47,525.94 L189.09,526.72 L189.73,527.49 L190.37,528.25 L191.03,529.01 L191.69,529.76 L192.37,530.50 L193.05,531.23 L193.75,531.96 L194.45,532.68 L195.16,533.39 L195.88,534.10 L196.61,534.80 L197.34,535.49 L198.08,536.18 L198.83,536.86 L199.58,537.54 L200.34,538.21 L201.10,538.88 L201.87,539.54 L202.64,540.20 L203.41,540.86 L204.18,541.51 L204.96,542.15 L205.74,542.79 L206.52,543.43 L207.31,544.07 L208.09,544.70 L208.87,545.33 L209.66,545.96 L210.44,546.59 L211.22,547.21 L212.00,547.84 L212.78,548.46 L213.56,549.08 L214.34,549.71 L215.11,550.33 L215.88,550.96 L216.65,551.59 L217.41,552.22 L218.18,552.86 L218.93,553.50 L219.69,554.14 L220.44,554.79 L221.18,555.44 L221.92,556.10 L222.66,556.77 L223.39,557.44 L224.12,558.12 L224.83,558.80 L225.55,559.50 L226.25,560.20 L226.95,560.91 L227.64,561.63 L228.33,562.36 L229.00,563.11 L229.67,563.86 L230.33,564.62 L230.99,565.40 L231.63,566.18 L232.27,566.98 L232.90,567.78 L233.53,568.59 L234.16,569.40 L234.78,570.22 L235.41,571.04 L236.03,571.86 L236.65,572.68 L237.27,573.50 L237.89,574.32 L238.51,575.14 L239.14,575.96 L239.77,576.77 L240.40,577.57 L241.04,578.37 L241.69,579.15 L242.34,579.93 L243.00,580.70 L243.67,581.46 L244.35,582.20 L245.04,582.93 L245.75,583.64 L246.46,584.34 L247.18,585.02 L247.92,585.69 L248.68,586.33 L249.45,586.95 L250.23,587.55 L251.03,588.13 L251.85,588.68 L252.69,589.21 L253.55,589.71 L254.41,590.19 L255.30,590.64 L256.19,591.06 L257.10,591.45 L258.02,591.82 L258.94,592.15 L259.88,592.45 L260.82,592.72 L261.77,592.96 L262.73,593.16 L263.69,593.33 L264.65,593.46 L265.62,593.56 L266.58,593.62 L267.55,593.65 L268.52,593.64 L269.48,593.59 L270.44,593.49 L271.40,593.36 L272.35,593.19 L273.30,592.98 L274.23,592.72 L275.16,592.42 L276.09,592.08 L277.00,591.69 L277.90,591.26 L278.78,590.78 L279.66,590.28 L280.53,589.73 L281.38,589.15 L282.23,588.55 L283.06,587.91 L283.88,587.25 L284.69,586.57 L285.49,585.86 L286.27,585.13 L287.05,584.39 L287.81,583.64 L288.55,582.87 L289.29,582.10 L290.01,581.32 L290.72,580.53 L291.41,579.74 L292.10,578.95 L292.77,578.16 L293.42,577.37 L294.07,576.58 L294.71,575.79 L295.33,575.00 L295.95,574.21 L296.56,573.42 L297.16,572.63 L297.75,571.84 L298.33,571.05 L298.91,570.26 L299.48,569.47 L300.05,568.68 L300.61,567.90 L301.17,567.11 L301.73,566.32 L302.28,565.53 L302.83,564.74 L303.38,563.96 L303.93,563.17 L304.48,562.39 L305.03,561.60 L305.58,560.82 L306.13,560.04 L306.69,559.26 L307.25,558.48 L307.81,557.70 L308.37,556.92 L308.94,556.14 L309.52,555.37 L310.10,554.59 L310.69,553.82 L311.28,553.05 L311.89,552.28 L312.50,551.51 L313.12,550.74 L313.75,549.98 L314.39,549.22 L315.04,548.45 L315.71,547.70 L316.38,546.94 L317.07,546.18 L317.77,545.43 L318.49,544.68 L319.22,543.93 L319.96,543.18 L320.72,542.45 L321.49,541.71 L322.27,540.99 L323.06,540.27 L323.86,539.57 L324.67,538.87 L325.50,538.18 L326.33,537.51 L327.17,536.85 L328.02,536.21 L328.88,535.58 L329.74,534.97 L330.62,534.38 L331.50,533.80 L332.39,533.25 L333.28,532.71 L334.18,532.20 L335.08,531.71 L335.99,531.25 L336.91,530.81 L337.82,530.40 L338.75,530.01 L339.67,529.65 L340.60,529.32 L341.53,529.02 L342.46,528.76 L343.39,528.52 L344.32,528.32 L345.26,528.15 L346.19,528.02 L347.13,527.93 L348.06,527.87 L348.99,527.85 L349.92,527.87 L350.85,527.93 L351.78,528.03 L352.70,528.17 L353.62,528.34 L354.55,528.54 L355.47,528.77 L356.39,529.04 L357.30,529.33 L358.22,529.65 L359.14,529.99 L360.05,530.35 L360.97,530.74 L361.88,531.15 L362.80,531.57 L363.71,532.01 L364.63,532.46 L365.54,532.93 L366.45,533.41 L367.37,533.90 L368.28,534.39 L369.20,534.90 L370.11,535.40 L371.03,535.91 L371.94,536.42 L372.86,536.93 L373.78,537.44 L374.70,537.94 L375.62,538.44 L376.54,538.93 L377.46,539.42 L378.39,539.89 L379.31,540.35 L380.24,540.79 L381.17,541.22 L382.10,541.64 L383.04,542.03 L383.97,542.41 L384.91,542.77 L385.85,543.12 L386.79,543.45 L387.74,543.77 L388.68,544.07 L389.63,544.36 L390.58,544.63 L391.53,544.89 L392.48,545.14 L393.43,545.38 L394.39,545.60 L395.35,545.81 L396.31,546.02 L397.27,546.21 L398.23,546.39 L399.20,546.56 L400.16,546.73 L401.13,546.88 L402.10,547.03 L403.07,547.17 L404.05,547.31 L405.02,547.43 L406.00,547.56 L406.97,547.67 L407.95,547.78 L408.93,547.89 L409.91,547.99 L410.90,548.09 L411.88,548.19 L412.87,548.28 L413.85,548.37 L414.84,548.46 L415.83,548.55 L416.82,548.63 L417.82,548.72 L418.81,548.81 L419.81,548.90 L420.80,548.98 L421.80,549.07 L422.80,549.15 L423.80,549.24 L424.80,549.33 L425.80,549.41 L426.80,549.50 L427.80,549.58 L428.81,549.67 L429.81,549.75 L430.81,549.83 L431.82,549.92 L432.83,550.00 L433.83,550.08 L434.84,550.17 L435.85,550.25 L436.85,550.33 L437.86,550.41 L438.87,550.49 L439.88,550.57 L440.88,550.66 L441.89,550.74 L442.90,550.81 L443.91,550.89 L444.91,550.97 L445.92,551.05 L446.93,551.13 L447.94,551.21 L448.94,551.28 L449.95,551.36 L450.95,551.43 L451.96,551.51 L452.96,551.58 L453.97,551.66 L454.97,551.73 L455.98,551.80 L456.98,551.88 L457.98,551.95 L458.98,552.02 L459.98,552.09 L460.98,552.16 L461.97,552.23 L462.97,552.30 L463.97,552.36 L464.96,552.43 L465.96,552.49 L466.95,552.55 L467.94,552.61 L468.93,552.66 L469.93,552.71 L470.92,552.76 L471.91,552.80 L472.90,552.83 L473.89,552.86 L474.88,552.88 L475.88,552.90 L476.87,552.91 L477.86,552.91 L478.85,552.91 L479.85,552.90 L480.84,552.88 L481.83,552.85 L482.83,552.81 L483.82,552.76 L484.82,552.70 L485.82,552.63 L486.82,552.55 L487.82,552.46 L488.82,552.35 L489.82,552.24 L490.82,552.12 L491.82,551.99 L492.83,551.85 L493.83,551.71 L494.84,551.57 L495.84,551.42 L496.84,551.28 L497.85,551.14 L498.85,551.00 L499.85,550.87 L500.86,550.74 L501.86,550.63 L502.86,550.52 L503.85,550.43 L504.85,550.34 L505.84,550.28 L506.84,550.22 L507.83,550.18 L508.82,550.15 L509.81,550.13 L510.80,550.12 L511.79,550.12 L512.78,550.13 L513.76,550.15 L514.75,550.19 L515.73,550.23 L516.72,550.28 L517.70,550.34 L518.69,550.40 L519.67,550.48 L520.66,550.56 L521.65,550.64 L522.63,550.74 L523.62,550.83 L524.60,550.94 L525.59,551.05 L526.58,551.16 L527.57,551.28 L528.56,551.40 L529.55,551.53 L530.54,551.65 L531.53,551.78 L532.53,551.92 L533.53,552.05 L534.52,552.19 L535.52,552.32 L536.53,552.46 L537.53,552.60 L538.54,552.73 L539.54,552.87 L540.55,553.00 L541.57,553.13 L542.58,553.26 L543.60,553.39 L544.62,553.51 L545.64,553.63 L546.66,553.75 L547.68,553.85 L548.70,553.95 L549.73,554.04 L550.75,554.12 L551.77,554.20 L552.79,554.25 L553.80,554.30 L554.82,554.34 L555.83,554.36 L556.84,554.36 L557.84,554.35 L558.84,554.32 L559.83,554.28 L560.82,554.21 L561.81,554.13 L562.79,554.02 L563.76,553.89 L564.72,553.74 L565.68,553.57 L566.63,553.37 L567.57,553.15 L568.50,552.90 L569.43,552.62 L570.34,552.31 L571.25,551.98 L572.14,551.61 L573.02,551.22 L573.90,550.79 L574.76,550.33 L575.60,549.83 L576.44,549.30 L577.26,548.73 L578.07,548.13 L578.87,547.49 L579.65,546.81 L580.41,546.09 L581.16,545.33 L581.90,544.53" fill="none" stroke="#ff7f0e" stroke-width="4.0" stroke-linejoin="round" stroke-linecap="butt" />
<circle cx="184.90" cy="42.40" r="5.5" fill="#1f77b4"/>
<circle cx="123.70" cy="157.30" r="5.5" fill="#ff7f0e"/>
<circle cx="349.30" cy="192.30" r="5.5" fill="#ff7f0e"/>
<circle cx="123.90" cy="381.00" r="5.5" fill="#ff7f0e"/>
<circle cx="349.50" cy="527.80" r="5.5" fill="#ff7f0e"/>
<circle cx="264.30" cy="594.30" r="5.5" fill="#ff7f0e"/>
<line x1="66.20" y1="318.40" x2="175.40" y2="318.40" stroke="#000" stroke-width="2.1"/><path d="M61.15,318.40 L67.20,314.90 L67.20,321.90 Z" fill="#000" stroke="#000" stroke-width="1" stroke-linejoin="round"/><path d="M180.45,318.40 L174.40,314.90 L174.40,321.90 Z" fill="#000" stroke="#000" stroke-width="1" stroke-linejoin="round"/>
<line x1="194.40" y1="318.40" x2="572.00" y2="318.40" stroke="#000" stroke-width="2.1"/><path d="M189.35,318.40 L195.40,314.90 L195.40,321.90 Z" fill="#000" stroke="#000" stroke-width="1" stroke-linejoin="round"/><path d="M577.05,318.40 L571.00,314.90 L571.00,321.90 Z" fill="#000" stroke="#000" stroke-width="1" stroke-linejoin="round"/>
<line x1="66.20" y1="323.20" x2="572.00" y2="323.20" stroke="#000" stroke-width="2.1"/><path d="M61.15,323.20 L67.20,319.70 L67.20,326.70 Z" fill="#000" stroke="#000" stroke-width="1" stroke-linejoin="round"/><path d="M577.05,323.20 L571.00,319.70 L571.00,326.70 Z" fill="#000" stroke="#000" stroke-width="1" stroke-linejoin="round"/>
<line x1="194.40" y1="192.20" x2="339.70" y2="192.20" stroke="#000" stroke-width="2.1"/><path d="M189.35,192.20 L195.40,188.70 L195.40,195.70 Z" fill="#000" stroke="#000" stroke-width="1" stroke-linejoin="round"/><path d="M344.75,192.20 L338.70,188.70 L338.70,195.70 Z" fill="#000" stroke="#000" stroke-width="1" stroke-linejoin="round"/>
<line x1="358.90" y1="192.20" x2="572.00" y2="192.20" stroke="#000" stroke-width="2.1"/><path d="M353.85,192.20 L359.90,188.70 L359.90,195.70 Z" fill="#000" stroke="#000" stroke-width="1" stroke-linejoin="round"/><path d="M577.05,192.20 L571.00,188.70 L571.00,195.70 Z" fill="#000" stroke="#000" stroke-width="1" stroke-linejoin="round"/>
<line x1="66.20" y1="381.10" x2="114.40" y2="381.10" stroke="#000" stroke-width="2.1"/><path d="M61.15,381.10 L67.20,377.60 L67.20,384.60 Z" fill="#000" stroke="#000" stroke-width="1" stroke-linejoin="round"/><path d="M119.45,381.10 L113.40,377.60 L113.40,384.60 Z" fill="#000" stroke="#000" stroke-width="1" stroke-linejoin="round"/>
<line x1="66.20" y1="528.00" x2="340.00" y2="528.00" stroke="#000" stroke-width="2.1"/><path d="M61.15,528.00 L67.20,524.50 L67.20,531.50 Z" fill="#000" stroke="#000" stroke-width="1" stroke-linejoin="round"/><path d="M345.05,528.00 L339.00,524.50 L339.00,531.50 Z" fill="#000" stroke="#000" stroke-width="1" stroke-linejoin="round"/>
<line x1="66.20" y1="594.40" x2="254.80" y2="594.40" stroke="#000" stroke-width="2.1"/><path d="M61.15,594.40 L67.20,590.90 L67.20,597.90 Z" fill="#000" stroke="#000" stroke-width="1" stroke-linejoin="round"/><path d="M259.85,594.40 L253.80,590.90 L253.80,597.90 Z" fill="#000" stroke="#000" stroke-width="1" stroke-linejoin="round"/>
<text class="m" transform="translate(0,308.85) scale(1,0.975)"><tspan x="94.17" y="-0.05" style="font-style:italic;font-size:26.30px">T</tspan></text><text class="m" transform="translate(0,313.52) scale(1,1.08)"><tspan x="110.20" y="0" style="font-style:italic;font-size:18.41px">s</tspan><tspan x="119.78" y="0" style="font-style:italic;font-size:18.41px">y</tspan><tspan x="130.65" y="0" style="font-style:italic;font-size:18.41px">s</tspan></text>
<text class="m" transform="translate(0,312.05) scale(1,0.975)"><tspan x="363.47" y="-0.05" style="font-style:italic;font-size:26.30px">T</tspan></text><text class="m" transform="translate(0,316.72) scale(1,1.08)"><tspan x="379.50" y="0" style="font-style:italic;font-size:18.41px">d</tspan><tspan x="391.17" y="0" style="font-style:italic;font-size:18.41px">i</tspan><tspan x="396.27" y="0" style="font-style:italic;font-size:18.41px">a</tspan></text>
<text class="m" transform="translate(0,345.55) scale(1,0.975)"><tspan x="286.97" y="-0.05" style="font-style:italic;font-size:26.30px">T</tspan></text><text class="m" transform="translate(0,350.22) scale(1,1.08)"><tspan x="303.00" y="0" style="font-style:italic;font-size:18.41px">c</tspan><tspan x="313.11" y="0" style="font-style:italic;font-size:18.41px">y</tspan><tspan x="323.98" y="0" style="font-style:italic;font-size:18.41px">c</tspan><tspan x="334.08" y="0" style="font-style:italic;font-size:18.41px">l</tspan><tspan x="339.19" y="0" style="font-style:italic;font-size:18.41px">e</tspan></text>
<text class="m" transform="translate(0,214.05) scale(1,0.975)"><tspan x="241.67" y="-0.05" style="font-style:italic;font-size:26.30px">T</tspan></text><text class="m" transform="translate(0,218.72) scale(1,1.08)"><tspan x="257.70" y="0" style="font-style:italic;font-size:18.41px">s</tspan><tspan x="276.47" y="0" style="font-style:italic;font-size:18.41px">z</tspan><tspan x="267.28" y="0" style="font-size:18.41px">_</tspan></text>
<text class="m" transform="translate(0,180.74) scale(1,0.975)"><tspan x="318.88" y="-0.44" style="font-style:italic;font-size:26.30px">p</tspan><tspan x="335.54" y="-0.44" style="font-style:italic;font-size:26.30px">p</tspan><tspan x="352.20" y="-0.44" style="font-style:italic;font-size:26.30px">g</tspan></text><text class="m" transform="translate(0,185.02) scale(1,1.08)"><tspan x="368.86" y="0" style="font-style:italic;font-size:18.41px">z</tspan></text>
<text class="m" transform="translate(0,181.45) scale(1,0.975)"><tspan x="430.27" y="-0.05" style="font-style:italic;font-size:26.30px">T</tspan></text><text class="m" transform="translate(0,186.12) scale(1,1.08)"><tspan x="446.30" y="0" style="font-style:italic;font-size:18.41px">z</tspan><tspan x="465.14" y="0" style="font-style:italic;font-size:18.41px">e</tspan><tspan x="476.44" y="0" style="font-style:italic;font-size:18.41px">n</tspan><tspan x="488.09" y="0" style="font-style:italic;font-size:18.41px">d</tspan><tspan x="455.95" y="0" style="font-size:18.41px">_</tspan></text>
<text class="m" transform="translate(0,374.25) scale(1,0.975)"><tspan x="71.37" y="-0.05" style="font-style:italic;font-size:26.30px">T</tspan></text><text class="m" transform="translate(0,378.92) scale(1,1.08)"><tspan x="87.40" y="0" style="font-style:italic;font-size:18.41px">w</tspan></text>
<text class="m" transform="translate(0,387.24) scale(1,0.975)"><tspan x="130.11" y="-0.44" style="font-style:italic;font-size:26.30px">v</tspan><tspan x="145.65" y="-0.44" style="font-style:italic;font-size:26.30px">p</tspan><tspan x="162.31" y="-0.44" style="font-style:italic;font-size:26.30px">g</tspan></text><text class="m" transform="translate(0,391.52) scale(1,1.08)"><tspan x="178.97" y="0" style="font-style:italic;font-size:18.41px">w</tspan></text>
<text class="m" transform="translate(0,521.15) scale(1,0.975)"><tspan x="189.67" y="-0.05" style="font-style:italic;font-size:26.30px">T</tspan></text><text class="m" transform="translate(0,525.82) scale(1,1.08)"><tspan x="205.70" y="0" style="font-style:italic;font-size:18.41px">z</tspan></text>
<text class="m" transform="translate(0,521.24) scale(1,0.975)"><tspan x="355.61" y="-0.44" style="font-style:italic;font-size:26.30px">v</tspan><tspan x="371.15" y="-0.44" style="font-style:italic;font-size:26.30px">p</tspan><tspan x="387.81" y="-0.44" style="font-style:italic;font-size:26.30px">g</tspan></text><text class="m" transform="translate(0,525.52) scale(1,1.08)"><tspan x="404.47" y="0" style="font-style:italic;font-size:18.41px">z</tspan></text>
<text class="m" transform="translate(0,584.65) scale(1,0.975)"><tspan x="146.87" y="-0.05" style="font-style:italic;font-size:26.30px">T</tspan></text><text class="m" transform="translate(0,589.32) scale(1,1.08)"><tspan x="162.90" y="0" style="font-style:italic;font-size:18.41px">y</tspan></text>
<text class="m" transform="translate(0,609.44) scale(1,0.975)"><tspan x="270.41" y="-0.44" style="font-style:italic;font-size:26.30px">v</tspan><tspan x="285.95" y="-0.44" style="font-style:italic;font-size:26.30px">p</tspan><tspan x="302.61" y="-0.44" style="font-style:italic;font-size:26.30px">g</tspan></text><text class="m" transform="translate(0,613.72) scale(1,1.08)"><tspan x="319.27" y="0" style="font-style:italic;font-size:18.41px">y</tspan></text>
<line x1="691.50" y1="622.50" x2="691.50" y2="30.50" stroke="#808080" stroke-opacity="0.65" stroke-width="2.3" stroke-dasharray="9.0 3.69" stroke-dashoffset="0"/>
<line x1="1216.70" y1="622.50" x2="1216.70" y2="30.50" stroke="#808080" stroke-opacity="0.65" stroke-width="2.3" stroke-dasharray="9.0 3.69" stroke-dashoffset="0"/>
<line x1="819.60" y1="326.50" x2="819.60" y2="63.00" stroke="#808080" stroke-opacity="0.65" stroke-width="2.3" stroke-dasharray="9.0 3.69" stroke-dashoffset="0"/>
<line x1="721.90" y1="622.50" x2="721.90" y2="390.00" stroke="#808080" stroke-opacity="0.65" stroke-width="2.3" stroke-dasharray="9.0 3.69" stroke-dashoffset="0"/>
<line x1="789.00" y1="622.50" x2="789.00" y2="597.00" stroke="#808080" stroke-opacity="0.65" stroke-width="2.3" stroke-dasharray="9.0 3.69" stroke-dashoffset="0"/>
<line x1="844.20" y1="622.50" x2="844.20" y2="526.00" stroke="#808080" stroke-opacity="0.65" stroke-width="2.3" stroke-dasharray="9.0 3.69" stroke-dashoffset="0"/>
<line x1="874.80" y1="622.50" x2="874.80" y2="540.00" stroke="#808080" stroke-opacity="0.65" stroke-width="2.3" stroke-dasharray="9.0 3.69" stroke-dashoffset="0"/>
<line x1="941.60" y1="622.50" x2="941.60" y2="457.00" stroke="#808080" stroke-opacity="0.65" stroke-width="2.3" stroke-dasharray="9.0 3.69" stroke-dashoffset="0"/>
<path d="M690.30,323.31 L691.42,323.16 L692.51,322.97 L693.58,322.75 L694.62,322.50 L695.64,322.22 L696.63,321.91 L697.59,321.57 L698.53,321.20 L699.45,320.81 L700.34,320.38 L701.21,319.93 L702.06,319.46 L702.89,318.96 L703.70,318.43 L704.48,317.88 L705.25,317.31 L705.99,316.71 L706.72,316.09 L707.43,315.46 L708.12,314.80 L708.79,314.12 L709.45,313.42 L710.09,312.71 L710.71,311.98 L711.32,311.23 L711.91,310.46 L712.49,309.68 L713.06,308.89 L713.61,308.08 L714.15,307.25 L714.68,306.42 L715.19,305.57 L715.69,304.71 L716.19,303.85 L716.67,302.97 L717.14,302.08 L717.61,301.18 L718.06,300.28 L718.51,299.37 L718.95,298.45 L719.38,297.53 L719.81,296.61 L720.23,295.67 L720.64,294.74 L721.05,293.80 L721.46,292.86 L721.86,291.92 L722.25,290.98 L722.65,290.04 L723.04,289.10 L723.43,288.16 L723.81,287.21 L724.19,286.27 L724.57,285.32 L724.95,284.38 L725.32,283.43 L725.69,282.49 L726.05,281.54 L726.42,280.60 L726.78,279.65 L727.13,278.70 L727.49,277.75 L727.84,276.81 L728.19,275.86 L728.54,274.91 L728.89,273.96 L729.23,273.01 L729.57,272.06 L729.91,271.11 L730.25,270.16 L730.58,269.21 L730.91,268.26 L731.24,267.31 L731.57,266.35 L731.90,265.40 L732.22,264.45 L732.54,263.50 L732.87,262.55 L733.19,261.59 L733.50,260.64 L733.82,259.69 L734.13,258.73 L734.45,257.78 L734.76,256.83 L735.07,255.87 L735.38,254.92 L735.69,253.97 L735.99,253.01 L736.30,252.06 L736.60,251.10 L736.91,250.15 L737.21,249.20 L737.51,248.24 L737.81,247.29 L738.11,246.33 L738.41,245.38 L738.70,244.42 L739.00,243.47 L739.30,242.51 L739.59,241.56 L739.88,240.60 L740.18,239.65 L740.47,238.69 L740.76,237.74 L741.05,236.78 L741.34,235.83 L741.62,234.87 L741.91,233.92 L742.20,232.96 L742.48,232.01 L742.77,231.05 L743.05,230.09 L743.33,229.14 L743.62,228.18 L743.90,227.22 L744.18,226.27 L744.46,225.31 L744.74,224.36 L745.02,223.40 L745.29,222.44 L745.57,221.49 L745.85,220.53 L746.13,219.57 L746.40,218.61 L746.68,217.66 L746.95,216.70 L747.23,215.74 L747.50,214.79 L747.77,213.83 L748.05,212.87 L748.32,211.91 L748.59,210.96 L748.86,210.00 L749.13,209.04 L749.40,208.08 L749.67,207.12 L749.94,206.16 L750.21,205.21 L750.48,204.25 L750.75,203.29 L751.02,202.33 L751.29,201.37 L751.56,200.41 L751.83,199.46 L752.09,198.50 L752.36,197.54 L752.63,196.58 L752.90,195.62 L753.16,194.66 L753.43,193.70 L753.70,192.74 L753.96,191.78 L754.23,190.82 L754.50,189.86 L754.76,188.90 L755.03,187.94 L755.30,186.98 L755.56,186.02 L755.83,185.06 L756.10,184.10 L756.36,183.14 L756.63,182.18 L756.90,181.22 L757.16,180.26 L757.43,179.30 L757.70,178.34 L757.96,177.38 L758.23,176.42 L758.50,175.46 L758.77,174.50 L759.03,173.53 L759.30,172.57 L759.57,171.61 L759.84,170.65 L760.11,169.69 L760.38,168.73 L760.65,167.76 L760.92,166.80 L761.19,165.84 L761.46,164.88 L761.73,163.92 L762.00,162.96 L762.27,161.99 L762.55,161.03 L762.82,160.07 L763.09,159.11 L763.37,158.14 L763.64,157.18 L763.91,156.22 L764.19,155.25 L764.46,154.29 L764.74,153.33 L765.02,152.37 L765.30,151.40 L765.57,150.44 L765.85,149.48 L766.13,148.51 L766.41,147.55 L766.69,146.58 L766.97,145.62 L767.26,144.66 L767.54,143.69 L767.82,142.73 L768.11,141.76 L768.39,140.80 L768.68,139.84 L768.96,138.87 L769.25,137.91 L769.54,136.94 L769.83,135.98 L770.12,135.01 L770.41,134.05 L770.70,133.08 L771.00,132.12 L771.29,131.15 L771.58,130.19 L771.88,129.22 L772.18,128.26 L772.47,127.29 L772.77,126.33 L773.07,125.36 L773.37,124.40 L773.68,123.43 L773.98,122.46 L774.28,121.50 L774.59,120.53 L774.90,119.57 L775.20,118.60 L775.51,117.63 L775.82,116.67 L776.13,115.70 L776.45,114.73 L776.76,113.77 L777.07,112.80 L777.39,111.83 L777.71,110.87 L778.03,109.90 L778.35,108.93 L778.67,107.96 L778.99,107.00 L779.32,106.03 L779.65,105.07 L779.98,104.10 L780.31,103.14 L780.65,102.18 L780.99,101.22 L781.33,100.26 L781.68,99.30 L782.04,98.35 L782.40,97.40 L782.76,96.46 L783.13,95.52 L783.51,94.58 L783.90,93.64 L784.29,92.72 L784.69,91.79 L785.09,90.87 L785.51,89.96 L785.93,89.05 L786.36,88.15 L786.80,87.25 L787.25,86.36 L787.71,85.48 L788.18,84.60 L788.66,83.73 L789.15,82.87 L789.65,82.01 L790.16,81.17 L790.69,80.33 L791.22,79.50 L791.77,78.68 L792.33,77.87 L792.91,77.07 L793.50,76.28 L794.10,75.50 L794.72,74.73 L795.35,73.97 L795.99,73.23 L796.66,72.49 L797.33,71.76 L798.03,71.05 L798.73,70.35 L799.46,69.66 L800.20,68.99 L800.95,68.33 L801.72,67.69 L802.51,67.06 L803.30,66.46 L804.11,65.88 L804.93,65.31 L805.77,64.78 L806.61,64.26 L807.47,63.77 L808.34,63.31 L809.21,62.87 L810.10,62.46 L811.00,62.09 L811.90,61.74 L812.81,61.42 L813.73,61.14 L814.66,60.90 L815.59,60.68 L816.53,60.50 L817.48,60.35 L818.43,60.23 L819.39,60.14 L820.35,60.09 L821.31,60.06 L822.28,60.06 L823.25,60.08 L824.22,60.14 L825.19,60.22 L826.17,60.33 L827.15,60.46 L828.12,60.62 L829.10,60.80 L830.08,61.00 L831.05,61.23 L832.03,61.47 L833.00,61.74 L833.97,62.03 L834.93,62.34 L835.89,62.67 L836.85,63.02 L837.81,63.38 L838.76,63.77 L839.70,64.16 L840.64,64.58 L841.57,65.01 L842.49,65.45 L843.41,65.91 L844.32,66.38 L845.22,66.86 L846.11,67.36 L846.99,67.87 L847.87,68.39 L848.74,68.92 L849.60,69.46 L850.45,70.02 L851.29,70.58 L852.13,71.16 L852.95,71.74 L853.77,72.34 L854.58,72.94 L855.39,73.56 L856.18,74.18 L856.97,74.82 L857.75,75.46 L858.52,76.11 L859.29,76.77 L860.05,77.44 L860.80,78.12 L861.54,78.80 L862.27,79.50 L863.00,80.20 L863.72,80.90 L864.43,81.62 L865.14,82.34 L865.84,83.06 L866.53,83.79 L867.21,84.53 L867.89,85.28 L868.56,86.03 L869.22,86.78 L869.87,87.54 L870.52,88.31 L871.16,89.08 L871.80,89.85 L872.43,90.63 L873.05,91.41 L873.66,92.20 L874.27,92.99 L874.88,93.78 L875.47,94.58 L876.06,95.38 L876.65,96.19 L877.23,97.00 L877.80,97.82 L878.37,98.63 L878.94,99.45 L879.50,100.28 L880.05,101.11 L880.60,101.94 L881.15,102.77 L881.69,103.61 L882.22,104.45 L882.75,105.29 L883.28,106.14 L883.81,106.99 L884.33,107.84 L884.84,108.69 L885.36,109.55 L885.86,110.40 L886.37,111.26 L886.87,112.13 L887.37,112.99 L887.87,113.86 L888.36,114.73 L888.86,115.60 L889.35,116.47 L889.83,117.34 L890.32,118.22 L890.80,119.09 L891.28,119.97 L891.76,120.85 L892.23,121.73 L892.71,122.61 L893.18,123.50 L893.66,124.38 L894.13,125.26 L894.60,126.15 L895.07,127.04 L895.53,127.92 L896.00,128.81 L896.47,129.70 L896.94,130.58 L897.40,131.47 L897.87,132.36 L898.34,133.25 L898.80,134.14 L899.27,135.03 L899.74,135.91 L900.21,136.80 L900.67,137.69 L901.14,138.57 L901.61,139.46 L902.09,140.35 L902.56,141.23 L903.03,142.12 L903.51,143.00 L903.98,143.88 L904.46,144.76 L904.94,145.64 L905.43,146.52 L905.91,147.40 L906.40,148.28 L906.89,149.15 L907.38,150.02 L907.87,150.90 L908.37,151.77 L908.87,152.63 L909.38,153.50 L909.88,154.36 L910.39,155.23 L910.90,156.08 L911.42,156.94 L911.94,157.80 L912.47,158.65 L913.00,159.50 L913.53,160.35 L914.06,161.19 L914.61,162.03 L915.15,162.87 L915.70,163.71 L916.26,164.54 L916.82,165.37 L917.38,166.20 L917.95,167.02 L918.53,167.84 L919.11,168.66 L919.69,169.47 L920.29,170.28 L920.89,171.09 L921.49,171.89 L922.10,172.69 L922.72,173.48 L923.34,174.27 L923.97,175.05 L924.60,175.83 L925.24,176.61 L925.89,177.38 L926.55,178.14 L927.21,178.90 L927.87,179.66 L928.55,180.40 L929.23,181.14 L929.91,181.88 L930.60,182.61 L931.30,183.33 L932.01,184.04 L932.72,184.74 L933.43,185.44 L934.16,186.13 L934.89,186.81 L935.62,187.48 L936.37,188.14 L937.12,188.80 L937.87,189.44 L938.63,190.08 L939.40,190.70 L940.18,191.31 L940.96,191.92 L941.75,192.51 L942.54,193.10 L943.34,193.67 L944.15,194.23 L944.96,194.78 L945.78,195.31 L946.61,195.84 L947.44,196.35 L948.28,196.85 L949.12,197.34 L949.98,197.81 L950.84,198.27 L951.70,198.72 L952.57,199.15 L953.45,199.57 L954.33,199.97 L955.22,200.36 L956.12,200.74 L957.03,201.10 L957.94,201.45 L958.85,201.77 L959.78,202.09 L960.71,202.39 L961.64,202.67 L962.59,202.93 L963.54,203.18 L964.49,203.41 L965.45,203.62 L966.42,203.82 L967.40,204.00 L968.38,204.16 L969.37,204.31 L970.36,204.44 L971.36,204.55 L972.36,204.66 L973.37,204.75 L974.38,204.83 L975.40,204.90 L976.42,204.96 L977.44,205.01 L978.47,205.06 L979.49,205.09 L980.52,205.13 L981.56,205.15 L982.59,205.18 L983.62,205.20 L984.66,205.22 L985.70,205.23 L986.73,205.25 L987.77,205.27 L988.80,205.29 L989.84,205.31 L990.87,205.34 L991.90,205.37 L992.93,205.40 L993.96,205.44 L994.98,205.49 L996.01,205.55 L997.03,205.61 L998.04,205.69 L999.05,205.77 L1000.06,205.87 L1001.06,205.98 L1002.06,206.11 L1003.06,206.24 L1004.05,206.39 L1005.03,206.55 L1006.02,206.72 L1006.99,206.91 L1007.97,207.10 L1008.94,207.31 L1009.91,207.53 L1010.87,207.75 L1011.83,207.99 L1012.79,208.24 L1013.74,208.50 L1014.70,208.77 L1015.64,209.05 L1016.59,209.34 L1017.53,209.64 L1018.47,209.95 L1019.41,210.27 L1020.34,210.59 L1021.27,210.93 L1022.20,211.27 L1023.13,211.62 L1024.05,211.98 L1024.97,212.35 L1025.89,212.72 L1026.81,213.10 L1027.72,213.49 L1028.64,213.89 L1029.55,214.29 L1030.46,214.70 L1031.36,215.11 L1032.27,215.53 L1033.17,215.96 L1034.07,216.39 L1034.97,216.83 L1035.87,217.27 L1036.77,217.71 L1037.66,218.16 L1038.55,218.62 L1039.45,219.08 L1040.34,219.54 L1041.23,220.01 L1042.11,220.48 L1043.00,220.96 L1043.89,221.43 L1044.77,221.91 L1045.66,222.40 L1046.54,222.88 L1047.43,223.37 L1048.31,223.86 L1049.19,224.35 L1050.07,224.84 L1050.95,225.33 L1051.83,225.83 L1052.71,226.33 L1053.59,226.82 L1054.47,227.32 L1055.35,227.82 L1056.23,228.31 L1057.11,228.81 L1057.99,229.31 L1058.87,229.80 L1059.75,230.30 L1060.62,230.79 L1061.50,231.28 L1062.38,231.77 L1063.26,232.26 L1064.15,232.75 L1065.03,233.24 L1065.91,233.73 L1066.79,234.21 L1067.67,234.70 L1068.55,235.18 L1069.43,235.66 L1070.32,236.14 L1071.20,236.62 L1072.08,237.10 L1072.96,237.58 L1073.84,238.06 L1074.73,238.54 L1075.61,239.01 L1076.49,239.49 L1077.37,239.97 L1078.25,240.44 L1079.14,240.92 L1080.02,241.39 L1080.90,241.87 L1081.78,242.34 L1082.66,242.81 L1083.54,243.29 L1084.43,243.76 L1085.31,244.24 L1086.19,244.71 L1087.07,245.18 L1087.95,245.66 L1088.83,246.13 L1089.71,246.60 L1090.59,247.08 L1091.47,247.55 L1092.34,248.03 L1093.22,248.50 L1094.10,248.98 L1094.98,249.46 L1095.85,249.93 L1096.73,250.41 L1097.61,250.89 L1098.48,251.37 L1099.36,251.85 L1100.23,252.33 L1101.11,252.81 L1101.98,253.29 L1102.85,253.77 L1103.73,254.26 L1104.60,254.74 L1105.47,255.23 L1106.34,255.71 L1107.21,256.20 L1108.08,256.69 L1108.94,257.18 L1109.81,257.67 L1110.68,258.17 L1111.55,258.66 L1112.41,259.16 L1113.27,259.66 L1114.14,260.16 L1115.00,260.66 L1115.86,261.16 L1116.72,261.66 L1117.58,262.17 L1118.44,262.68 L1119.30,263.19 L1120.16,263.70 L1121.01,264.21 L1121.87,264.73 L1122.72,265.25 L1123.58,265.77 L1124.43,266.29 L1125.28,266.81 L1126.13,267.34 L1126.98,267.87 L1127.83,268.40 L1128.68,268.93 L1129.52,269.46 L1130.37,270.00 L1131.21,270.53 L1132.06,271.07 L1132.90,271.61 L1133.74,272.15 L1134.58,272.69 L1135.43,273.24 L1136.27,273.78 L1137.11,274.33 L1137.94,274.88 L1138.78,275.43 L1139.62,275.98 L1140.46,276.53 L1141.29,277.08 L1142.13,277.64 L1142.97,278.19 L1143.80,278.75 L1144.63,279.31 L1145.47,279.87 L1146.30,280.43 L1147.13,280.99 L1147.97,281.55 L1148.80,282.11 L1149.63,282.67 L1150.46,283.24 L1151.29,283.80 L1152.12,284.36 L1152.95,284.93 L1153.78,285.50 L1154.61,286.06 L1155.44,286.63 L1156.27,287.20 L1157.10,287.77 L1157.93,288.33 L1158.75,288.90 L1159.58,289.47 L1160.41,290.04 L1161.24,290.61 L1162.06,291.18 L1162.89,291.75 L1163.72,292.32 L1164.55,292.89 L1165.37,293.46 L1166.20,294.03 L1167.03,294.60 L1167.85,295.17 L1168.68,295.74 L1169.51,296.31 L1170.34,296.88 L1171.16,297.45 L1171.99,298.02 L1172.82,298.59 L1173.65,299.16 L1174.47,299.73 L1175.30,300.29 L1176.13,300.86 L1176.96,301.43 L1177.79,301.99 L1178.61,302.56 L1179.44,303.12 L1180.27,303.69 L1181.10,304.25 L1181.93,304.81 L1182.76,305.38 L1183.59,305.94 L1184.42,306.50 L1185.26,307.06 L1186.09,307.61 L1186.92,308.17 L1187.75,308.73 L1188.58,309.28 L1189.42,309.84 L1190.25,310.39 L1191.09,310.94 L1191.92,311.49 L1192.76,312.04 L1193.59,312.59 L1194.43,313.14 L1195.27,313.68 L1196.11,314.22 L1196.95,314.77 L1197.78,315.31 L1198.62,315.85 L1199.47,316.38 L1200.31,316.92 L1201.15,317.45 L1201.99,317.99 L1202.84,318.52 L1203.68,319.05 L1204.53,319.57 L1205.37,320.10 L1206.22,320.62 L1207.07,321.14 L1207.92,321.66 L1208.77,322.18 L1209.62,322.69 L1210.47,323.21 L1211.32,323.72 L1212.18,324.23 L1213.03,324.73 L1213.89,325.24 L1214.74,325.74 L1215.60,326.24 L1216.46,326.74" fill="none" stroke="#1f77b4" stroke-width="4.0" stroke-linejoin="round" stroke-linecap="butt" />
<path d="M690.40,483.10 L698.00,468.70 L703.00,415.50 L703.38,414.63 L703.75,413.77 L704.11,412.88 L704.47,411.99 L704.83,411.07 L705.18,410.15 L705.54,409.22 L705.90,408.27 L706.26,407.32 L706.63,406.36 L707.00,405.40 L707.39,404.44 L707.79,403.47 L708.20,402.51 L708.63,401.55 L709.07,400.59 L709.54,399.63 L710.02,398.68 L710.53,397.74 L711.06,396.81 L711.61,395.89 L712.20,394.98 L712.81,394.09 L713.45,393.21 L714.13,392.35 L714.84,391.50 L715.59,390.68 L716.37,389.90 L717.16,389.18 L717.97,388.55 L718.79,388.01 L719.60,387.59 L720.40,387.31 L721.18,387.19 L721.94,387.25 L722.66,387.50 L723.35,387.92 L724.02,388.48 L724.65,389.15 L725.27,389.91 L725.86,390.73 L726.43,391.57 L726.99,392.43 L727.54,393.30 L728.06,394.17 L728.58,395.05 L729.07,395.94 L729.56,396.84 L730.03,397.74 L730.49,398.65 L730.94,399.57 L731.38,400.50 L731.80,401.43 L732.22,402.36 L732.63,403.30 L733.03,404.25 L733.42,405.20 L733.80,406.15 L734.17,407.11 L734.54,408.07 L734.90,409.03 L735.26,410.00 L735.61,410.97 L735.96,411.94 L736.31,412.91 L736.65,413.88 L736.99,414.85 L737.32,415.83 L737.66,416.80 L737.99,417.78 L738.32,418.75 L738.66,419.72 L738.99,420.69 L739.33,421.66 L739.67,422.63 L740.01,423.59 L740.35,424.56 L740.70,425.52 L741.05,426.47 L741.41,427.42 L741.77,428.37 L742.14,429.32 L742.51,430.25 L742.90,431.19 L743.28,432.12 L743.68,433.04 L744.09,433.95 L744.50,434.86 L744.93,435.76 L745.37,436.66 L745.81,437.55 L746.27,438.43 L746.74,439.30 L747.23,440.16 L747.27,441.21 L747.50,442.19 L747.72,443.17 L747.95,444.15 L748.17,445.13 L748.39,446.11 L748.61,447.09 L748.82,448.07 L749.04,449.05 L749.25,450.03 L749.47,451.02 L749.68,452.00 L749.89,452.98 L750.09,453.96 L750.30,454.95 L750.51,455.93 L750.71,456.91 L750.91,457.90 L751.11,458.88 L751.31,459.86 L751.51,460.85 L751.71,461.83 L751.91,462.82 L752.11,463.80 L752.30,464.78 L752.50,465.77 L752.69,466.75 L752.88,467.74 L753.08,468.73 L753.27,469.71 L753.46,470.70 L753.65,471.68 L753.84,472.67 L754.03,473.65 L754.22,474.64 L754.41,475.63 L754.60,476.61 L754.78,477.60 L754.97,478.58 L755.16,479.57 L755.35,480.56 L755.53,481.54 L755.72,482.53 L755.91,483.52 L756.09,484.50 L756.28,485.49 L756.47,486.48 L756.65,487.46 L756.84,488.45 L757.03,489.43 L757.21,490.42 L757.40,491.41 L757.59,492.39 L757.78,493.38 L757.96,494.37 L758.15,495.35 L758.34,496.34 L758.53,497.32 L758.72,498.31 L758.91,499.29 L759.10,500.28 L759.30,501.26 L759.49,502.25 L759.68,503.23 L759.88,504.22 L760.07,505.20 L760.27,506.19 L760.46,507.17 L760.66,508.16 L760.86,509.14 L761.06,510.12 L761.26,511.11 L761.46,512.09 L761.66,513.07 L761.87,514.06 L762.07,515.04 L762.28,516.02 L762.49,517.00 L762.70,517.98 L762.91,518.97 L763.12,519.95 L763.34,520.93 L763.55,521.91 L763.77,522.89 L763.99,523.87 L764.21,524.85 L764.43,525.83 L764.65,526.81 L764.88,527.78 L765.10,528.76 L765.33,529.74 L765.56,530.72 L765.80,531.69 L766.03,532.67 L766.27,533.65 L766.51,534.62 L766.75,535.60 L766.99,536.57 L767.24,537.55 L767.49,538.52 L767.74,539.50 L767.99,540.47 L768.24,541.44 L768.50,542.41 L768.76,543.39 L769.02,544.36 L769.29,545.33 L769.56,546.30 L769.83,547.27 L770.10,548.24 L770.37,549.21 L770.65,550.17 L770.93,551.14 L771.22,552.11 L771.50,553.08 L771.79,554.04 L772.08,555.01 L772.38,555.97 L772.68,556.94 L772.98,557.90 L773.28,558.86 L773.59,559.82 L773.90,560.79 L774.22,561.75 L774.54,562.71 L774.86,563.67 L775.18,564.63 L775.51,565.58 L775.84,566.54 L776.18,567.50 L776.51,568.46 L776.86,569.41 L777.20,570.37 L777.55,571.32 L777.90,572.27 L778.26,573.23 L778.62,574.18 L778.99,575.13 L779.35,576.08 L779.73,577.03 L780.10,577.98 L780.48,578.93 L780.87,579.87 L781.25,580.82 L781.65,581.77 L782.04,582.71 L782.44,583.66 L782.85,584.60 L783.26,585.54 L783.68,586.48 L784.11,587.39 L784.55,588.27 L785.02,589.11 L785.52,589.90 L786.05,590.61 L786.63,591.25 L787.24,591.80 L787.91,592.24 L788.63,592.56 L789.41,592.76 L790.24,592.84 L791.11,592.80 L792.02,592.66 L792.96,592.43 L793.91,592.11 L794.88,591.71 L795.84,591.24 L796.80,590.70 L797.73,590.12 L798.65,589.48 L799.53,588.81 L800.37,588.11 L801.16,587.39 L801.92,586.63 L802.63,585.86 L803.31,585.06 L803.96,584.24 L804.57,583.40 L805.16,582.55 L805.71,581.67 L806.24,580.79 L806.75,579.88 L807.24,578.97 L807.70,578.04 L808.15,577.11 L808.58,576.17 L809.01,575.21 L809.41,574.26 L809.82,573.30 L810.21,572.34 L810.60,571.37 L810.99,570.41 L811.37,569.44 L811.76,568.48 L812.15,567.53 L812.55,566.57 L812.94,565.62 L813.34,564.67 L813.75,563.73 L814.16,562.79 L814.57,561.86 L814.98,560.92 L815.40,560.00 L815.82,559.07 L816.25,558.15 L816.68,557.24 L817.12,556.33 L817.56,555.42 L818.01,554.52 L818.46,553.62 L818.92,552.73 L819.38,551.84 L819.85,550.96 L820.33,550.08 L820.81,549.21 L821.30,548.34 L821.80,547.48 L822.30,546.62 L822.81,545.77 L823.33,544.93 L823.86,544.09 L824.39,543.26 L824.93,542.43 L825.48,541.61 L826.04,540.79 L826.60,539.98 L827.18,539.18 L827.76,538.39 L828.35,537.60 L828.96,536.81 L829.57,536.04 L830.19,535.27 L830.82,534.51 L831.46,533.75 L832.11,533.01 L832.77,532.27 L833.44,531.53 L834.13,530.81 L834.82,530.09 L835.53,529.38 L836.24,528.68 L836.97,527.98 L837.71,527.30 L838.46,526.62 L839.23,525.95 L840.00,525.28 L840.79,524.63 L841.59,523.99 L842.41,523.35 L843.23,522.72 L844.07,522.10 L845.02,522.73 L845.95,523.25 L846.88,523.76 L847.81,524.27 L848.74,524.78 L849.68,525.28 L850.61,525.77 L851.55,526.26 L852.50,526.74 L853.44,527.22 L854.39,527.69 L855.34,528.16 L856.30,528.62 L857.25,529.07 L858.21,529.52 L859.17,529.96 L860.14,530.40 L861.10,530.83 L862.07,531.26 L863.04,531.68 L864.02,532.10 L864.99,532.51 L865.97,532.91 L866.95,533.31 L867.94,533.70 L868.93,534.09 L869.91,534.47 L870.91,534.85 L871.90,535.22 L872.90,535.59 L873.90,535.95 L874.90,536.30 L875.79,535.73 L876.49,535.03 L877.18,534.33 L877.87,533.61 L878.55,532.90 L879.23,532.18 L879.91,531.45 L880.59,530.72 L881.26,529.98 L881.94,529.24 L882.60,528.50 L883.27,527.75 L883.93,526.99 L884.59,526.24 L885.24,525.48 L885.90,524.71 L886.55,523.94 L887.19,523.17 L887.84,522.39 L888.48,521.61 L889.12,520.82 L889.75,520.03 L890.38,519.24 L891.01,518.45 L891.64,517.65 L892.26,516.85 L892.88,516.05 L893.50,515.24 L894.11,514.43 L894.72,513.62 L895.33,512.80 L895.93,511.99 L896.53,511.17 L897.13,510.35 L897.73,509.52 L898.32,508.70 L898.90,507.87 L899.49,507.04 L900.07,506.21 L900.65,505.38 L901.23,504.54 L901.80,503.71 L902.37,502.87 L902.93,502.03 L903.49,501.19 L904.05,500.35 L904.61,499.51 L905.16,498.67 L905.71,497.83 L906.26,496.98 L906.80,496.14 L907.34,495.29 L907.87,494.45 L908.41,493.60 L908.94,492.76 L909.46,491.91 L909.99,491.07 L910.51,490.22 L911.03,489.38 L911.55,488.53 L912.07,487.68 L912.59,486.84 L913.11,485.99 L913.63,485.14 L914.15,484.30 L914.67,483.45 L915.19,482.60 L915.71,481.75 L916.24,480.91 L916.77,480.06 L917.31,479.21 L917.84,478.37 L918.39,477.52 L918.93,476.67 L919.48,475.82 L920.04,474.98 L920.60,474.13 L921.17,473.28 L921.74,472.43 L922.32,471.59 L922.91,470.74 L923.51,469.89 L924.11,469.05 L924.73,468.20 L925.35,467.35 L925.98,466.51 L926.62,465.66 L927.27,464.81 L927.93,463.97 L928.60,463.12 L929.29,462.28 L929.98,461.45 L930.69,460.64 L931.40,459.85 L932.13,459.08 L932.87,458.34 L933.63,457.64 L934.39,456.98 L935.17,456.36 L935.96,455.79 L936.76,455.27 L937.57,454.82 L938.40,454.42 L939.24,454.10 L940.10,453.85 L940.96,453.67 L941.84,453.58 L942.74,453.58 L943.64,453.65 L944.56,453.80 L945.48,454.02 L946.40,454.31 L947.33,454.65 L948.26,455.06 L949.18,455.51 L950.11,456.01 L951.02,456.55 L951.93,457.13 L952.83,457.74 L953.72,458.38 L954.60,459.03 L955.46,459.71 L956.30,460.40 L957.12,461.10 L957.92,461.80 L958.71,462.52 L959.48,463.24 L960.24,463.97 L960.98,464.70 L961.71,465.45 L962.42,466.19 L963.13,466.94 L963.82,467.69 L964.51,468.45 L965.19,469.21 L965.86,469.97 L966.53,470.74 L967.19,471.50 L967.85,472.26 L968.50,473.03 L969.15,473.79 L969.80,474.55 L970.45,475.32 L971.10,476.08 L971.74,476.84 L972.38,477.60 L973.03,478.36 L973.67,479.12 L974.31,479.88 L974.95,480.64 L975.59,481.40 L976.22,482.16 L976.86,482.92 L977.50,483.68 L978.14,484.45 L978.78,485.21 L979.42,485.97 L980.06,486.73 L980.70,487.49 L981.34,488.26 L981.98,489.02 L982.63,489.78 L983.27,490.55 L983.92,491.31 L984.57,492.08 L985.22,492.85 L985.88,493.62 L986.53,494.39 L987.19,495.16 L987.85,495.93 L988.52,496.70 L989.18,497.47 L989.85,498.25 L990.53,499.03 L991.21,499.80 L992.01,500.28 L992.80,500.78 L993.61,501.30 L994.43,501.81 L995.26,502.33 L996.11,502.85 L996.96,503.37 L997.83,503.89 L998.71,504.41 L999.59,504.93 L1000.49,505.44 L1001.40,505.95 L1002.31,506.45 L1003.23,506.94 L1004.16,507.42 L1005.10,507.89 L1006.04,508.35 L1006.99,508.79 L1007.94,509.22 L1008.90,509.64 L1009.86,510.03 L1010.83,510.41 L1011.80,510.77 L1012.77,511.10 L1013.75,511.42 L1014.73,511.70 L1015.70,511.97 L1016.68,512.21 L1017.66,512.42 L1018.64,512.60 L1019.62,512.74 L1020.60,512.86 L1021.57,512.95 L1022.55,513.00 L1023.52,513.01 L1024.48,512.99 L1025.45,512.93 L1026.40,512.83 L1027.36,512.69 L1028.31,512.50 L1029.25,512.28 L1030.19,512.00 L1031.12,511.69 L1032.04,511.33 L1032.96,510.93 L1033.87,510.50 L1034.78,510.03 L1035.68,509.54 L1036.58,509.02 L1037.47,508.48 L1038.37,507.92 L1039.26,507.34 L1040.14,506.76 L1041.03,506.16 L1041.91,505.55 L1042.79,504.95 L1043.67,504.34 L1044.55,503.74 L1045.43,503.14 L1046.31,502.56 L1047.19,501.99 L1048.07,501.43 L1048.96,500.90 L1049.85,500.39 L1050.73,499.90 L1051.63,499.45 L1052.52,499.03 L1053.42,498.64 L1054.32,498.29 L1055.23,497.99 L1056.14,497.73 L1057.06,497.53 L1057.98,497.37 L1058.91,497.27 L1059.85,497.22 L1060.79,497.22 L1061.74,497.26 L1062.69,497.33 L1063.65,497.44 L1064.61,497.57 L1065.58,497.72 L1066.55,497.89 L1067.53,498.07 L1068.50,498.26 L1069.49,498.45 L1070.47,498.63 L1071.46,498.80 L1072.45,498.96 L1073.45,499.11 L1074.44,499.22 L1075.44,499.32 L1076.44,499.39 L1077.45,499.44 L1078.45,499.47 L1079.46,499.48 L1080.46,499.48 L1081.47,499.45 L1082.48,499.42 L1083.49,499.36 L1084.50,499.29 L1085.51,499.22 L1086.52,499.14 L1087.53,499.06 L1088.54,498.97 L1089.54,498.89 L1090.55,498.82 L1091.55,498.76 L1092.56,498.71 L1093.56,498.68 L1094.56,498.67 L1095.55,498.68 L1096.55,498.71 L1097.54,498.76 L1098.53,498.82 L1099.52,498.88 L1100.50,498.96 L1101.49,499.03 L1102.48,499.09 L1103.46,499.15 L1104.45,499.20 L1105.43,499.24 L1106.42,499.25 L1107.41,499.24 L1108.40,499.21 L1109.39,499.14 L1110.38,499.05 L1111.37,498.94 L1112.36,498.80 L1113.36,498.65 L1114.35,498.47 L1115.35,498.28 L1116.34,498.08 L1117.34,497.86 L1118.33,497.63 L1119.33,497.40 L1120.33,497.16 L1121.32,496.91 L1122.32,496.66 L1123.32,496.42 L1124.31,496.17 L1125.31,495.93 L1126.30,495.70 L1127.30,495.47 L1128.29,495.25 L1129.28,495.05 L1130.27,494.86 L1131.27,494.69 L1132.25,494.53 L1133.24,494.39 L1134.23,494.28 L1135.21,494.19 L1136.20,494.13 L1137.18,494.10 L1138.16,494.09 L1139.14,494.12 L1140.11,494.19 L1141.09,494.29 L1142.06,494.42 L1143.03,494.60 L1143.99,494.83 L1144.96,495.09 L1145.92,495.39 L1146.88,495.72 L1147.84,496.08 L1148.80,496.45 L1149.75,496.83 L1150.71,497.21 L1151.67,497.58 L1152.63,497.95 L1153.59,498.29 L1154.55,498.60 L1155.51,498.88 L1156.48,499.12 L1157.45,499.32 L1158.42,499.47 L1159.40,499.59 L1160.38,499.68 L1161.36,499.73 L1162.34,499.76 L1163.33,499.77 L1164.32,499.77 L1165.32,499.75 L1166.31,499.72 L1167.32,499.69 L1168.32,499.66 L1169.33,499.63 L1170.34,499.62 L1171.36,499.61 L1172.38,499.62 L1173.40,499.65 L1174.43,499.70 L1175.45,499.76 L1176.48,499.83 L1177.51,499.92 L1178.54,500.01 L1179.57,500.10 L1180.60,500.18 L1181.63,500.27 L1182.65,500.35 L1183.67,500.41 L1184.69,500.46 L1185.70,500.50 L1186.70,500.52 L1187.70,500.51 L1188.69,500.47 L1189.67,500.41 L1190.65,500.31 L1191.61,500.17 L1192.56,500.00 L1193.50,499.78 L1194.43,499.52 L1195.35,499.21 L1196.26,498.85 L1197.15,498.43 L1198.02,497.95 L1198.88,497.43 L1199.71,496.86 L1200.53,496.24 L1201.32,495.59 L1202.08,494.90 L1202.81,494.17 L1203.52,493.42 L1204.19,492.64 L1204.83,491.83 L1205.43,491.01 L1206.01,490.16 L1206.55,489.30 L1207.08,488.43 L1207.57,487.54 L1208.05,486.63 L1208.52,485.72 L1208.96,484.80 L1209.39,483.87 L1209.82,482.93 L1210.23,481.99 L1210.64,481.05 L1211.04,480.11 L1211.45,479.16 L1211.85,478.23 L1212.26,477.29 L1212.68,476.36 L1213.10,475.45 L1213.53,474.54 L1213.98,473.64 L1214.44,472.75 L1214.93,471.88 L1215.43,471.03 L1215.95,470.19 L1216.51,469.37 L1217.08,468.58 L1217.69,467.81" fill="none" stroke="#2ca02c" stroke-width="4.0" stroke-linejoin="round" stroke-linecap="butt" />
<circle cx="819.60" cy="59.40" r="5.5" fill="#1f77b4"/>
<circle cx="789.00" cy="83.50" r="5.5" fill="#2ca02c"/>
<circle cx="844.40" cy="66.40" r="5.5" fill="#2ca02c"/>
<circle cx="875.00" cy="94.60" r="5.5" fill="#2ca02c"/>
<circle cx="941.80" cy="193.60" r="5.5" fill="#2ca02c"/>
<circle cx="721.80" cy="291.60" r="5.5" fill="#2ca02c"/>
<circle cx="721.90" cy="386.50" r="5.5" fill="#2ca02c"/>
<circle cx="788.90" cy="593.20" r="5.5" fill="#2ca02c"/>
<circle cx="844.10" cy="522.20" r="5.5" fill="#2ca02c"/>
<circle cx="874.90" cy="536.30" r="5.5" fill="#2ca02c"/>
<circle cx="941.70" cy="453.30" r="5.5" fill="#2ca02c"/>
<line x1="798.70" y1="83.50" x2="810.40" y2="83.50" stroke="#000" stroke-width="2.1"/><path d="M793.65,83.50 L799.70,80.00 L799.70,87.00 Z" fill="#000" stroke="#000" stroke-width="1" stroke-linejoin="round"/><path d="M815.45,83.50 L809.40,80.00 L809.40,87.00 Z" fill="#000" stroke="#000" stroke-width="1" stroke-linejoin="round"/>
<line x1="829.30" y1="66.40" x2="834.30" y2="66.40" stroke="#000" stroke-width="2.1"/><path d="M824.25,66.40 L830.30,62.90 L830.30,69.90 Z" fill="#000" stroke="#000" stroke-width="1" stroke-linejoin="round"/><path d="M839.35,66.40 L833.30,62.90 L833.30,69.90 Z" fill="#000" stroke="#000" stroke-width="1" stroke-linejoin="round"/>
<line x1="829.30" y1="94.60" x2="865.40" y2="94.60" stroke="#000" stroke-width="2.1"/><path d="M824.25,94.60 L830.30,91.10 L830.30,98.10 Z" fill="#000" stroke="#000" stroke-width="1" stroke-linejoin="round"/><path d="M870.45,94.60 L864.40,91.10 L864.40,98.10 Z" fill="#000" stroke="#000" stroke-width="1" stroke-linejoin="round"/>
<line x1="829.10" y1="193.60" x2="932.40" y2="193.60" stroke="#000" stroke-width="2.1"/><path d="M824.05,193.60 L830.10,190.10 L830.10,197.10 Z" fill="#000" stroke="#000" stroke-width="1" stroke-linejoin="round"/><path d="M937.45,193.60 L931.40,190.10 L931.40,197.10 Z" fill="#000" stroke="#000" stroke-width="1" stroke-linejoin="round"/>
<line x1="731.60" y1="291.90" x2="810.40" y2="291.90" stroke="#000" stroke-width="2.1"/><path d="M726.55,291.90 L732.60,288.40 L732.60,295.40 Z" fill="#000" stroke="#000" stroke-width="1" stroke-linejoin="round"/><path d="M815.45,291.90 L809.40,288.40 L809.40,295.40 Z" fill="#000" stroke="#000" stroke-width="1" stroke-linejoin="round"/>
<line x1="700.50" y1="622.80" x2="712.90" y2="622.80" stroke="#000" stroke-width="2.1"/><path d="M695.45,622.80 L701.50,619.30 L701.50,626.30 Z" fill="#000" stroke="#000" stroke-width="1" stroke-linejoin="round"/><path d="M717.95,622.80 L711.90,619.30 L711.90,626.30 Z" fill="#000" stroke="#000" stroke-width="1" stroke-linejoin="round"/>
<line x1="731.20" y1="622.80" x2="780.20" y2="622.80" stroke="#000" stroke-width="2.1"/><path d="M726.15,622.80 L732.20,619.30 L732.20,626.30 Z" fill="#000" stroke="#000" stroke-width="1" stroke-linejoin="round"/><path d="M785.25,622.80 L779.20,619.30 L779.20,626.30 Z" fill="#000" stroke="#000" stroke-width="1" stroke-linejoin="round"/>
<line x1="798.50" y1="622.80" x2="834.90" y2="622.80" stroke="#000" stroke-width="2.1"/><path d="M793.45,622.80 L799.50,619.30 L799.50,626.30 Z" fill="#000" stroke="#000" stroke-width="1" stroke-linejoin="round"/><path d="M839.95,622.80 L833.90,619.30 L833.90,626.30 Z" fill="#000" stroke="#000" stroke-width="1" stroke-linejoin="round"/>
<line x1="853.50" y1="622.80" x2="865.60" y2="622.80" stroke="#000" stroke-width="2.1"/><path d="M848.45,622.80 L854.50,619.30 L854.50,626.30 Z" fill="#000" stroke="#000" stroke-width="1" stroke-linejoin="round"/><path d="M870.65,622.80 L864.60,619.30 L864.60,626.30 Z" fill="#000" stroke="#000" stroke-width="1" stroke-linejoin="round"/>
<line x1="884.20" y1="622.80" x2="932.50" y2="622.80" stroke="#000" stroke-width="2.1"/><path d="M879.15,622.80 L885.20,619.30 L885.20,626.30 Z" fill="#000" stroke="#000" stroke-width="1" stroke-linejoin="round"/><path d="M937.55,622.80 L931.50,619.30 L931.50,626.30 Z" fill="#000" stroke="#000" stroke-width="1" stroke-linejoin="round"/>
<text class="m" transform="translate(0,52.25) scale(1,0.975)"><tspan x="844.28" y="-0.05" style="font-style:italic;font-size:26.30px">p</tspan><tspan x="860.94" y="-0.05" style="font-style:italic;font-size:26.30px">p</tspan><tspan x="877.60" y="-0.05" style="font-style:italic;font-size:26.30px">g</tspan><tspan x="918.54" y="-0.05" style="font-style:italic;font-size:26.30px">T</tspan><tspan x="905.08" y="-0.05" style="font-size:26.30px">,</tspan></text><text class="m" transform="translate(0,56.92) scale(1,1.08)"><tspan x="894.26" y="0" style="font-style:italic;font-size:18.41px">c</tspan><tspan x="934.57" y="0" style="font-style:italic;font-size:18.41px">s</tspan><tspan x="953.33" y="0" style="font-style:italic;font-size:18.41px">c</tspan><tspan x="944.14" y="0" style="font-size:18.41px">_</tspan></text>
<text class="m" transform="translate(0,78.04) scale(1,0.975)"><tspan x="719.38" y="-0.44" style="font-style:italic;font-size:26.30px">p</tspan><tspan x="736.04" y="-0.44" style="font-style:italic;font-size:26.30px">p</tspan><tspan x="752.70" y="-0.44" style="font-style:italic;font-size:26.30px">g</tspan></text><text class="m" transform="translate(0,82.32) scale(1,1.08)"><tspan x="769.36" y="0" style="font-style:italic;font-size:18.41px">b</tspan></text>
<text class="m" transform="translate(0,103.65) scale(1,0.975)"><tspan x="729.67" y="-0.05" style="font-style:italic;font-size:26.30px">T</tspan></text><text class="m" transform="translate(0,108.32) scale(1,1.08)"><tspan x="745.70" y="0" style="font-style:italic;font-size:18.41px">s</tspan><tspan x="764.47" y="0" style="font-style:italic;font-size:18.41px">b</tspan><tspan x="755.28" y="0" style="font-size:18.41px">_</tspan></text>
<text class="m" transform="translate(0,103.04) scale(1,0.975)"><tspan x="886.88" y="-0.44" style="font-style:italic;font-size:26.30px">p</tspan><tspan x="903.54" y="-0.44" style="font-style:italic;font-size:26.30px">p</tspan><tspan x="920.20" y="-0.44" style="font-style:italic;font-size:26.30px">g</tspan></text><text class="m" transform="translate(0,107.32) scale(1,1.08)"><tspan x="936.86" y="0" style="font-style:italic;font-size:18.41px">d</tspan></text>
<text class="m" transform="translate(0,116.65) scale(1,0.975)"><tspan x="823.97" y="-0.05" style="font-style:italic;font-size:26.30px">T</tspan></text><text class="m" transform="translate(0,121.32) scale(1,1.08)"><tspan x="840.00" y="0" style="font-style:italic;font-size:18.41px">s</tspan><tspan x="858.77" y="0" style="font-style:italic;font-size:18.41px">d</tspan><tspan x="849.58" y="0" style="font-size:18.41px">_</tspan></text>
<text class="m" transform="translate(0,187.44) scale(1,0.975)"><tspan x="948.18" y="-0.44" style="font-style:italic;font-size:26.30px">p</tspan><tspan x="964.84" y="-0.44" style="font-style:italic;font-size:26.30px">p</tspan><tspan x="981.50" y="-0.44" style="font-style:italic;font-size:26.30px">g</tspan></text><text class="m" transform="translate(0,191.72) scale(1,1.08)"><tspan x="998.16" y="0" style="font-style:italic;font-size:18.41px">e</tspan></text>
<text class="m" transform="translate(0,215.95) scale(1,0.975)"><tspan x="857.07" y="-0.05" style="font-style:italic;font-size:26.30px">T</tspan></text><text class="m" transform="translate(0,220.62) scale(1,1.08)"><tspan x="873.10" y="0" style="font-style:italic;font-size:18.41px">s</tspan><tspan x="891.87" y="0" style="font-style:italic;font-size:18.41px">e</tspan><tspan x="882.68" y="0" style="font-size:18.41px">_</tspan></text>
<text class="m" transform="translate(0,282.64) scale(1,0.975)"><tspan x="739.78" y="-0.44" style="font-style:italic;font-size:26.30px">p</tspan><tspan x="756.44" y="-0.44" style="font-style:italic;font-size:26.30px">p</tspan><tspan x="773.10" y="-0.44" style="font-style:italic;font-size:26.30px">g</tspan></text><text class="m" transform="translate(0,286.92) scale(1,1.08)"><tspan x="789.76" y="0" style="font-style:italic;font-size:18.41px">a</tspan></text>
<text class="m" transform="translate(0,312.65) scale(1,0.975)"><tspan x="747.37" y="-0.05" style="font-style:italic;font-size:26.30px">T</tspan></text><text class="m" transform="translate(0,317.32) scale(1,1.08)"><tspan x="763.40" y="0" style="font-style:italic;font-size:18.41px">s</tspan><tspan x="782.17" y="0" style="font-style:italic;font-size:18.41px">a</tspan><tspan x="772.98" y="0" style="font-size:18.41px">_</tspan></text>
<text class="m" transform="translate(0,393.44) scale(1,0.975)"><tspan x="728.62" y="-0.44" style="font-style:italic;font-size:26.30px">a</tspan><tspan x="744.71" y="-0.44" style="font-style:italic;font-size:26.30px">p</tspan><tspan x="761.37" y="-0.44" style="font-style:italic;font-size:26.30px">g</tspan></text><text class="m" transform="translate(0,397.72) scale(1,1.08)"><tspan x="778.03" y="0" style="font-style:italic;font-size:18.41px">a</tspan></text>
<text class="m" transform="translate(0,599.74) scale(1,0.975)"><tspan x="720.52" y="-0.44" style="font-style:italic;font-size:26.30px">a</tspan><tspan x="736.61" y="-0.44" style="font-style:italic;font-size:26.30px">p</tspan><tspan x="753.27" y="-0.44" style="font-style:italic;font-size:26.30px">g</tspan></text><text class="m" transform="translate(0,604.02) scale(1,1.08)"><tspan x="769.93" y="0" style="font-style:italic;font-size:18.41px">b</tspan></text>
<text class="m" transform="translate(0,510.74) scale(1,0.975)"><tspan x="813.22" y="-0.44" style="font-style:italic;font-size:26.30px">a</tspan><tspan x="829.31" y="-0.44" style="font-style:italic;font-size:26.30px">p</tspan><tspan x="845.97" y="-0.44" style="font-style:italic;font-size:26.30px">g</tspan></text><text class="m" transform="translate(0,515.02) scale(1,1.08)"><tspan x="862.63" y="0" style="font-style:italic;font-size:18.41px">c</tspan></text>
<text class="m" transform="translate(0,559.24) scale(1,0.975)"><tspan x="874.82" y="-0.44" style="font-style:italic;font-size:26.30px">a</tspan><tspan x="890.91" y="-0.44" style="font-style:italic;font-size:26.30px">p</tspan><tspan x="907.57" y="-0.44" style="font-style:italic;font-size:26.30px">g</tspan></text><text class="m" transform="translate(0,563.52) scale(1,1.08)"><tspan x="924.23" y="0" style="font-style:italic;font-size:18.41px">d</tspan></text>
<text class="m" transform="translate(0,442.64) scale(1,0.975)"><tspan x="910.92" y="-0.44" style="font-style:italic;font-size:26.30px">a</tspan><tspan x="927.01" y="-0.44" style="font-style:italic;font-size:26.30px">p</tspan><tspan x="943.67" y="-0.44" style="font-style:italic;font-size:26.30px">g</tspan></text><text class="m" transform="translate(0,446.92) scale(1,1.08)"><tspan x="960.33" y="0" style="font-style:italic;font-size:18.41px">e</tspan></text>
<text class="m" transform="translate(0,648.65) scale(1,0.975)"><tspan x="692.57" y="-0.05" style="font-style:italic;font-size:26.30px">T</tspan></text><text class="m" transform="translate(0,653.32) scale(1,1.08)"><tspan x="708.60" y="0" style="font-style:italic;font-size:18.41px">a</tspan></text>
<text class="m" transform="translate(0,648.65) scale(1,0.975)"><tspan x="741.07" y="-0.05" style="font-style:italic;font-size:26.30px">T</tspan></text><text class="m" transform="translate(0,653.32) scale(1,1.08)"><tspan x="757.10" y="0" style="font-style:italic;font-size:18.41px">b</tspan></text>
<text class="m" transform="translate(0,648.65) scale(1,0.975)"><tspan x="802.97" y="-0.05" style="font-style:italic;font-size:26.30px">T</tspan></text><text class="m" transform="translate(0,653.32) scale(1,1.08)"><tspan x="819.00" y="0" style="font-style:italic;font-size:18.41px">c</tspan></text>
<text class="m" transform="translate(0,648.65) scale(1,0.975)"><tspan x="845.07" y="-0.05" style="font-style:italic;font-size:26.30px">T</tspan></text><text class="m" transform="translate(0,653.32) scale(1,1.08)"><tspan x="861.10" y="0" style="font-style:italic;font-size:18.41px">d</tspan></text>
<text class="m" transform="translate(0,648.65) scale(1,0.975)"><tspan x="894.17" y="-0.05" style="font-style:italic;font-size:26.30px">T</tspan></text><text class="m" transform="translate(0,653.32) scale(1,1.08)"><tspan x="910.20" y="0" style="font-style:italic;font-size:18.41px">e</tspan></text>
<line x1="1463.60" y1="634.80" x2="1463.60" y2="35.00" stroke="#727272" stroke-opacity="1.0" stroke-width="2.1" stroke-dasharray="9.0 3.69" stroke-dashoffset="0"/>
<path d="M1333.90,627.20 L1341.80,625.10 L1348.10,618.30 L1348.83,617.61 L1349.26,616.69 L1349.69,615.77 L1350.10,614.85 L1350.51,613.93 L1350.92,613.00 L1351.32,612.07 L1351.71,611.15 L1352.10,610.21 L1352.48,609.28 L1352.86,608.35 L1353.23,607.41 L1353.59,606.48 L1353.95,605.54 L1354.31,604.60 L1354.66,603.66 L1355.00,602.72 L1355.34,601.77 L1355.67,600.83 L1356.00,599.88 L1356.32,598.93 L1356.64,597.98 L1356.95,597.03 L1357.26,596.08 L1357.56,595.13 L1357.86,594.17 L1358.15,593.22 L1358.44,592.26 L1358.73,591.30 L1359.01,590.34 L1359.28,589.38 L1359.56,588.42 L1359.83,587.46 L1360.09,586.50 L1360.35,585.53 L1360.61,584.57 L1360.86,583.60 L1361.11,582.63 L1361.35,581.66 L1361.59,580.70 L1361.83,579.72 L1362.06,578.75 L1362.29,577.78 L1362.52,576.81 L1362.75,575.83 L1362.97,574.86 L1363.18,573.88 L1363.40,572.91 L1363.61,571.93 L1363.82,570.95 L1364.03,569.97 L1364.23,568.99 L1364.43,568.01 L1364.63,567.03 L1364.82,566.05 L1365.02,565.07 L1365.21,564.09 L1365.40,563.10 L1365.58,562.12 L1365.77,561.14 L1365.95,560.15 L1366.13,559.17 L1366.31,558.18 L1366.48,557.19 L1366.66,556.21 L1366.83,555.22 L1367.00,554.23 L1367.17,553.24 L1367.34,552.26 L1367.50,551.27 L1367.67,550.28 L1367.83,549.29 L1367.99,548.30 L1368.15,547.31 L1368.31,546.32 L1368.47,545.33 L1368.63,544.34 L1368.79,543.35 L1368.95,542.36 L1369.10,541.37 L1369.26,540.38 L1369.41,539.38 L1369.57,538.39 L1369.72,537.40 L1369.87,536.41 L1370.03,535.42 L1370.18,534.43 L1370.33,533.44 L1370.48,532.44 L1370.64,531.45 L1370.79,530.46 L1370.94,529.47 L1371.09,528.48 L1371.24,527.49 L1371.39,526.49 L1371.54,525.50 L1371.70,524.51 L1371.85,523.52 L1372.00,522.53 L1372.15,521.54 L1372.29,520.54 L1372.44,519.55 L1372.59,518.56 L1372.74,517.57 L1372.89,516.58 L1373.04,515.58 L1373.19,514.59 L1373.33,513.60 L1373.48,512.61 L1373.63,511.62 L1373.78,510.62 L1373.92,509.63 L1374.07,508.64 L1374.22,507.65 L1374.36,506.66 L1374.51,505.66 L1374.65,504.67 L1374.80,503.68 L1374.94,502.69 L1375.09,501.70 L1375.23,500.70 L1375.38,499.71 L1375.52,498.72 L1375.67,497.73 L1375.81,496.73 L1375.95,495.74 L1376.10,494.75 L1376.24,493.76 L1376.38,492.77 L1376.53,491.77 L1376.67,490.78 L1376.81,489.79 L1376.95,488.80 L1377.10,487.80 L1377.24,486.81 L1377.38,485.82 L1377.52,484.83 L1377.66,483.83 L1377.80,482.84 L1377.94,481.85 L1378.08,480.86 L1378.22,479.86 L1378.36,478.87 L1378.50,477.88 L1378.64,476.88 L1378.78,475.89 L1378.92,474.90 L1379.06,473.91 L1379.20,472.91 L1379.34,471.92 L1379.47,470.93 L1379.61,469.94 L1379.75,468.94 L1379.89,467.95 L1380.03,466.96 L1380.16,465.96 L1380.30,464.97 L1380.44,463.98 L1380.57,462.98 L1380.71,461.99 L1380.85,461.00 L1380.98,460.01 L1381.12,459.01 L1381.25,458.02 L1381.39,457.03 L1381.52,456.03 L1381.66,455.04 L1381.79,454.05 L1381.93,453.05 L1382.06,452.06 L1382.20,451.07 L1382.33,450.07 L1382.46,449.08 L1382.60,448.09 L1382.73,447.09 L1382.86,446.10 L1383.00,445.11 L1383.13,444.11 L1383.26,443.12 L1383.40,442.12 L1383.53,441.13 L1383.66,440.14 L1383.79,439.14 L1383.92,438.15 L1384.05,437.16 L1384.19,436.16 L1384.32,435.17 L1384.45,434.18 L1384.58,433.18 L1384.71,432.19 L1384.84,431.19 L1384.97,430.20 L1385.10,429.21 L1385.23,428.21 L1385.36,427.22 L1385.49,426.22 L1385.62,425.23 L1385.75,424.24 L1385.88,423.24 L1386.01,422.25 L1386.13,421.25 L1386.26,420.26 L1386.39,419.27 L1386.52,418.27 L1386.65,417.28 L1386.78,416.28 L1386.90,415.29 L1387.03,414.29 L1387.16,413.30 L1387.29,412.31 L1387.41,411.31 L1387.54,410.32 L1387.67,409.32 L1387.79,408.33 L1387.92,407.33 L1388.05,406.34 L1388.17,405.34 L1388.30,404.35 L1388.42,403.36 L1388.55,402.36 L1388.67,401.37 L1388.80,400.37 L1388.92,399.38 L1389.05,398.38 L1389.17,397.39 L1389.30,396.39 L1389.42,395.40 L1389.55,394.40 L1389.67,393.41 L1389.79,392.41 L1389.92,391.42 L1390.04,390.42 L1390.17,389.43 L1390.29,388.43 L1390.41,387.44 L1390.54,386.44 L1390.66,385.45 L1390.78,384.45 L1390.90,383.46 L1391.03,382.46 L1391.15,381.47 L1391.27,380.47 L1391.39,379.48 L1391.52,378.48 L1391.64,377.48 L1391.76,376.49 L1391.88,375.49 L1392.00,374.50 L1392.12,373.50 L1392.24,372.51 L1392.36,371.51 L1392.49,370.52 L1392.61,369.52 L1392.73,368.53 L1392.85,367.53 L1392.97,366.53 L1393.09,365.54 L1393.21,364.54 L1393.33,363.55 L1393.45,362.55 L1393.57,361.55 L1393.69,360.56 L1393.81,359.56 L1393.92,358.57 L1394.04,357.57 L1394.16,356.57 L1394.28,355.58 L1394.40,354.58 L1394.52,353.59 L1394.64,352.59 L1394.76,351.59 L1394.87,350.60 L1394.99,349.60 L1395.11,348.61 L1395.23,347.61 L1395.35,346.61 L1395.46,345.62 L1395.58,344.62 L1395.70,343.62 L1395.82,342.63 L1395.93,341.63 L1396.05,340.63 L1396.17,339.64 L1396.28,338.64 L1396.40,337.64 L1396.52,336.65 L1396.64,335.65 L1396.75,334.65 L1396.87,333.66 L1396.99,332.66 L1397.10,331.66 L1397.22,330.67 L1397.33,329.67 L1397.45,328.67 L1397.57,327.68 L1397.68,326.68 L1397.80,325.68 L1397.92,324.69 L1398.03,323.69 L1398.15,322.69 L1398.27,321.70 L1398.38,320.70 L1398.50,319.70 L1398.61,318.71 L1398.73,317.71 L1398.85,316.71 L1398.96,315.72 L1399.08,314.72 L1399.20,313.72 L1399.31,312.73 L1399.43,311.73 L1399.54,310.73 L1399.66,309.73 L1399.78,308.74 L1399.89,307.74 L1400.01,306.74 L1400.13,305.75 L1400.24,304.75 L1400.36,303.75 L1400.48,302.76 L1400.59,301.76 L1400.71,300.76 L1400.83,299.76 L1400.94,298.77 L1401.06,297.77 L1401.18,296.77 L1401.29,295.78 L1401.41,294.78 L1401.53,293.78 L1401.64,292.79 L1401.76,291.79 L1401.88,290.79 L1402.00,289.80 L1402.11,288.80 L1402.23,287.80 L1402.35,286.81 L1402.47,285.81 L1402.58,284.81 L1402.70,283.82 L1402.82,282.82 L1402.94,281.82 L1403.06,280.82 L1403.18,279.83 L1403.29,278.83 L1403.41,277.83 L1403.53,276.84 L1403.65,275.84 L1403.77,274.84 L1403.89,273.85 L1404.01,272.85 L1404.13,271.86 L1404.25,270.86 L1404.37,269.86 L1404.49,268.87 L1404.61,267.87 L1404.73,266.87 L1404.85,265.88 L1404.97,264.88 L1405.09,263.88 L1405.21,262.89 L1405.33,261.89 L1405.46,260.89 L1405.58,259.90 L1405.70,258.90 L1405.82,257.91 L1405.94,256.91 L1406.07,255.91 L1406.19,254.92 L1406.31,253.92 L1406.43,252.93 L1406.56,251.93 L1406.68,250.93 L1406.81,249.94 L1406.93,248.94 L1407.05,247.95 L1407.18,246.95 L1407.30,245.95 L1407.43,244.96 L1407.55,243.96 L1407.68,242.97 L1407.80,241.97 L1407.93,240.98 L1408.06,239.98 L1408.18,238.98 L1408.31,237.99 L1408.44,236.99 L1408.56,236.00 L1408.69,235.00 L1408.82,234.01 L1408.95,233.01 L1409.08,232.02 L1409.21,231.02 L1409.33,230.03 L1409.46,229.03 L1409.59,228.04 L1409.72,227.04 L1409.85,226.05 L1409.98,225.05 L1410.11,224.06 L1410.25,223.06 L1410.38,222.07 L1410.51,221.07 L1410.64,220.08 L1410.77,219.09 L1410.91,218.09 L1411.04,217.10 L1411.17,216.10 L1411.31,215.11 L1411.44,214.11 L1411.58,213.12 L1411.71,212.13 L1411.85,211.13 L1411.98,210.14 L1412.12,209.14 L1412.25,208.15 L1412.39,207.16 L1412.53,206.16 L1412.67,205.17 L1412.80,204.18 L1412.94,203.18 L1413.08,202.19 L1413.22,201.20 L1413.36,200.20 L1413.50,199.21 L1413.64,198.22 L1413.78,197.22 L1413.92,196.23 L1414.06,195.24 L1414.20,194.24 L1414.35,193.25 L1414.49,192.26 L1414.63,191.27 L1414.78,190.27 L1414.92,189.28 L1415.06,188.29 L1415.21,187.30 L1415.35,186.30 L1415.50,185.31 L1415.65,184.32 L1415.79,183.33 L1415.94,182.34 L1416.09,181.34 L1416.24,180.35 L1416.38,179.36 L1416.53,178.37 L1416.68,177.38 L1416.83,176.39 L1416.98,175.39 L1417.13,174.40 L1417.29,173.41 L1417.44,172.42 L1417.59,171.43 L1417.74,170.44 L1417.90,169.45 L1418.05,168.46 L1418.20,167.47 L1418.36,166.48 L1418.52,165.49 L1418.67,164.50 L1418.83,163.51 L1418.98,162.52 L1419.14,161.53 L1419.30,160.54 L1419.46,159.55 L1419.62,158.56 L1419.78,157.57 L1419.94,156.58 L1420.10,155.59 L1420.26,154.60 L1420.42,153.61 L1420.58,152.62 L1420.75,151.63 L1420.91,150.64 L1421.08,149.65 L1421.24,148.66 L1421.41,147.68 L1421.57,146.69 L1421.74,145.70 L1421.91,144.71 L1422.07,143.72 L1422.24,142.73 L1422.41,141.75 L1422.58,140.76 L1422.75,139.77 L1422.92,138.78 L1423.09,137.80 L1423.26,136.81 L1423.44,135.82 L1423.61,134.83 L1423.78,133.85 L1423.96,132.86 L1424.13,131.87 L1424.31,130.89 L1424.48,129.90 L1424.66,128.91 L1424.84,127.93 L1425.02,126.94 L1425.20,125.95 L1425.38,124.97 L1425.56,123.98 L1425.74,123.00 L1425.92,122.01 L1426.10,121.03 L1426.28,120.04 L1426.47,119.05 L1426.65,118.07 L1426.84,117.08 L1427.02,116.10 L1427.21,115.11 L1427.39,114.13 L1427.58,113.15 L1427.77,112.16 L1427.96,111.18 L1428.15,110.19 L1428.34,109.21 L1428.53,108.22 L1428.72,107.24 L1428.92,106.26 L1429.11,105.27 L1429.30,104.29 L1429.50,103.31 L1429.69,102.32 L1429.89,101.34 L1430.09,100.36 L1430.28,99.38 L1430.48,98.39 L1430.68,97.41 L1430.88,96.43 L1431.08,95.45 L1431.29,94.46 L1431.49,93.48 L1431.69,92.50 L1431.90,91.52 L1432.11,90.54 L1432.32,89.56 L1432.53,88.58 L1432.74,87.60 L1432.96,86.63 L1433.17,85.65 L1433.39,84.67 L1433.62,83.70 L1433.84,82.72 L1434.07,81.75 L1434.30,80.77 L1434.54,79.80 L1434.78,78.83 L1435.02,77.86 L1435.27,76.89 L1435.52,75.93 L1435.77,74.96 L1436.03,74.00 L1436.30,73.03 L1436.56,72.07 L1436.84,71.11 L1437.12,70.15 L1437.40,69.20 L1437.69,68.24 L1437.98,67.29 L1438.28,66.34 L1438.58,65.39 L1438.89,64.44 L1439.21,63.50 L1439.53,62.55 L1439.86,61.61 L1440.20,60.67 L1440.54,59.74 L1440.89,58.80 L1441.24,57.87 L1441.60,56.94 L1441.97,56.01 L1442.35,55.09 L1442.74,54.17 L1443.13,53.25 L1443.53,52.33 L1443.94,51.41 L1444.35,50.50 L1444.78,49.59 L1445.21,48.69 L1445.66,47.79 L1446.11,46.89 L1446.57,45.99 L1447.03,45.09 L1447.51,44.20 L1448.00,43.32 L1448.50,42.43 L1449.01,41.55 L1449.52,40.67 L1450.05,39.80 L1450.59,38.93 L1451.13,38.06 L1452.37,37.62 L1453.17,36.84 L1453.98,36.07 L1454.82,35.32 L1455.68,34.59 L1456.57,33.90 L1457.49,33.25 L1458.43,32.65 L1459.40,32.10 L1460.40,31.61 L1461.43,31.20 L1462.50,30.86 L1463.60,30.60 L1464.63,30.57 L1465.65,30.77 L1466.66,31.00 L1467.64,31.27 L1468.61,31.57 L1469.57,31.90 L1470.50,32.26 L1471.42,32.66 L1472.32,33.08 L1473.21,33.52 L1474.08,34.00 L1474.94,34.50 L1475.78,35.02 L1476.60,35.57 L1477.42,36.13 L1478.22,36.72 L1479.01,37.33 L1479.78,37.95 L1480.54,38.59 L1481.30,39.25 L1482.03,39.93 L1482.76,40.61 L1483.48,41.31 L1484.19,42.02 L1484.88,42.74 L1485.57,43.47 L1486.25,44.21 L1486.92,44.96 L1487.58,45.71 L1488.24,46.47 L1488.88,47.23 L1489.52,48.00 L1490.15,48.77 L1490.77,49.55 L1491.38,50.33 L1491.99,51.12 L1492.58,51.92 L1493.17,52.72 L1493.76,53.52 L1494.33,54.33 L1494.90,55.15 L1495.46,55.97 L1496.01,56.79 L1496.56,57.62 L1497.10,58.45 L1497.63,59.29 L1498.16,60.13 L1498.68,60.98 L1499.19,61.83 L1499.70,62.68 L1500.20,63.54 L1500.69,64.40 L1501.18,65.27 L1501.66,66.14 L1502.14,67.01 L1502.61,67.89 L1503.07,68.77 L1503.53,69.66 L1503.98,70.54 L1504.43,71.44 L1504.87,72.33 L1505.31,73.23 L1505.74,74.13 L1506.17,75.04 L1506.59,75.94 L1507.00,76.85 L1507.42,77.77 L1507.82,78.68 L1508.22,79.60 L1508.62,80.53 L1509.01,81.45 L1509.40,82.38 L1509.78,83.31 L1510.16,84.24 L1510.54,85.17 L1510.91,86.11 L1511.28,87.05 L1511.64,87.99 L1512.00,88.93 L1512.35,89.87 L1512.71,90.82 L1513.06,91.77 L1513.40,92.71 L1513.74,93.67 L1514.08,94.62 L1514.42,95.57 L1514.75,96.53 L1515.08,97.48 L1515.40,98.44 L1515.73,99.40 L1516.05,100.36 L1516.37,101.32 L1516.68,102.28 L1517.00,103.25 L1517.31,104.21 L1517.62,105.17 L1517.92,106.14 L1518.23,107.11 L1518.53,108.07 L1518.83,109.04 L1519.13,110.00 L1519.43,110.97 L1519.72,111.94 L1520.02,112.91 L1520.31,113.87 L1520.60,114.84 L1520.89,115.81 L1521.18,116.77 L1521.47,117.74 L1521.75,118.71 L1522.04,119.68 L1522.32,120.64 L1522.60,121.61 L1522.89,122.58 L1523.17,123.54 L1523.44,124.51 L1523.72,125.48 L1524.00,126.45 L1524.27,127.41 L1524.55,128.38 L1524.82,129.35 L1525.09,130.31 L1525.36,131.28 L1525.63,132.25 L1525.90,133.22 L1526.17,134.18 L1526.43,135.15 L1526.70,136.12 L1526.96,137.08 L1527.23,138.05 L1527.49,139.02 L1527.75,139.99 L1528.01,140.95 L1528.27,141.92 L1528.53,142.89 L1528.79,143.85 L1529.05,144.82 L1529.30,145.79 L1529.56,146.76 L1529.81,147.72 L1530.07,148.69 L1530.32,149.66 L1530.57,150.62 L1530.82,151.59 L1531.07,152.56 L1531.32,153.52 L1531.57,154.49 L1531.82,155.46 L1532.07,156.43 L1532.32,157.39 L1532.57,158.36 L1532.81,159.33 L1533.06,160.29 L1533.30,161.26 L1533.55,162.23 L1533.79,163.19 L1534.04,164.16 L1534.28,165.13 L1534.52,166.09 L1534.76,167.06 L1535.01,168.03 L1535.25,168.99 L1535.49,169.96 L1535.73,170.93 L1535.97,171.90 L1536.21,172.86 L1536.45,173.83 L1536.69,174.80 L1536.93,175.76 L1537.17,176.73 L1537.40,177.70 L1537.64,178.66 L1537.88,179.63 L1538.12,180.60 L1538.35,181.56 L1538.59,182.53 L1538.83,183.50 L1539.07,184.46 L1539.30,185.43 L1539.54,186.40 L1539.77,187.36 L1540.01,188.33 L1540.25,189.30 L1540.48,190.26 L1540.72,191.23 L1540.96,192.20 L1541.19,193.16 L1541.43,194.13 L1541.66,195.10 L1541.90,196.06 L1542.14,197.03 L1542.37,198.00 L1542.61,198.96 L1542.85,199.93 L1543.08,200.90 L1543.32,201.86 L1543.56,202.83 L1543.79,203.80 L1544.03,204.76 L1544.27,205.73 L1544.51,206.70 L1544.74,207.66 L1544.98,208.63 L1545.22,209.60 L1545.46,210.56 L1545.70,211.53 L1545.94,212.50 L1546.18,213.46 L1546.42,214.43 L1546.66,215.40 L1546.90,216.36 L1547.14,217.33 L1547.38,218.30 L1547.63,219.26 L1547.87,220.23 L1548.11,221.20 L1548.36,222.16 L1548.60,223.13 L1548.84,224.10 L1549.09,225.06 L1549.34,226.03 L1549.58,227.00 L1549.83,227.96 L1550.08,228.93 L1550.33,229.90 L1550.57,230.86 L1550.82,231.83 L1551.07,232.79 L1551.33,233.76 L1551.58,234.73 L1551.83,235.69 L1552.08,236.66 L1552.34,237.63 L1552.59,238.59 L1552.85,239.56 L1553.10,240.53 L1553.36,241.49 L1553.62,242.46 L1553.88,243.43 L1554.14,244.39 L1554.40,245.36 L1554.66,246.32 L1554.92,247.29 L1555.19,248.26 L1555.45,249.22 L1555.72,250.19 L1555.98,251.16 L1556.25,252.12 L1556.52,253.09 L1556.79,254.05 L1557.06,255.02 L1557.33,255.99 L1557.60,256.95 L1557.88,257.92 L1558.15,258.89 L1558.43,259.85 L1558.71,260.82 L1558.99,261.79 L1559.27,262.75 L1559.55,263.72 L1559.83,264.68 L1560.11,265.65 L1560.40,266.62 L1560.68,267.58 L1560.97,268.55 L1561.26,269.52 L1561.55,270.48 L1561.84,271.45 L1562.14,272.41 L1562.43,273.38 L1562.73,274.35 L1563.02,275.31 L1563.32,276.28 L1563.62,277.24 L1563.92,278.21 L1564.23,279.18 L1564.53,280.14 L1564.84,281.11 L1565.14,282.08 L1565.45,283.04 L1565.76,284.01 L1566.08,284.97 L1566.39,285.94 L1566.71,286.91 L1567.02,287.87 L1567.34,288.84 L1567.66,289.80 L1567.98,290.77 L1568.31,291.74 L1568.63,292.70 L1568.96,293.67 L1569.29,294.63 L1569.62,295.60 L1569.95,296.57 L1570.29,297.53 L1570.63,298.50 L1570.96,299.46 L1571.30,300.43 L1571.65,301.40 L1571.99,302.36 L1572.34,303.33 L1572.68,304.29 L1573.03,305.26 L1573.39,306.23 L1573.74,307.19 L1574.10,308.16 L1574.45,309.12 L1574.82,310.09 L1575.18,311.05 L1575.55,312.01 L1575.92,312.97 L1576.29,313.92 L1576.67,314.88 L1577.06,315.83 L1577.45,316.78 L1577.84,317.72 L1578.24,318.66 L1578.64,319.60 L1579.05,320.53 L1579.46,321.46 L1579.88,322.39 L1580.31,323.30 L1580.74,324.22 L1581.18,325.13 L1581.63,326.03 L1582.08,326.92 L1582.54,327.81 L1583.01,328.70 L1583.49,329.57 L1583.97,330.44 L1584.46,331.30 L1584.96,332.15 L1585.47,333.00 L1585.99,333.83 L1586.52,334.66 L1587.06,335.48 L1587.61,336.29 L1588.16,337.09 L1588.73,337.88 L1589.31,338.66 L1589.90,339.43 L1590.50,340.18 L1591.11,340.93 L1591.73,341.67 L1592.36,342.39 L1593.01,343.10 L1593.67,343.80 L1594.34,344.49 L1595.02,345.16 L1595.72,345.83 L1596.43,346.47 L1597.15,347.11 L1597.88,347.73 L1598.63,348.34 L1599.40,348.93 L1600.18,349.51 L1600.97,350.07 L1601.77,350.61 L1602.59,351.15 L1603.42,351.66 L1604.27,352.16 L1605.13,352.64 L1606.00,353.11 L1606.88,353.56 L1607.77,353.99 L1608.67,354.40 L1609.59,354.80 L1610.51,355.17 L1611.45,355.53 L1612.39,355.87 L1613.34,356.19 L1614.30,356.49 L1615.27,356.77 L1616.25,357.03 L1617.24,357.27 L1618.23,357.49 L1619.24,357.69 L1620.24,357.87 L1621.26,358.03 L1622.28,358.17 L1623.30,358.30 L1624.33,358.42 L1625.36,358.52 L1626.39,358.62 L1627.42,358.71 L1628.45,358.80 L1629.49,358.88 L1630.52,358.97 L1631.55,359.05 L1632.58,359.14 L1633.61,359.24 L1634.63,359.34 L1635.64,359.46 L1636.65,359.59 L1637.66,359.73 L1638.66,359.89 L1639.65,360.06 L1640.63,360.26 L1641.60,360.47 L1642.57,360.71 L1643.52,360.96 L1644.47,361.23 L1645.41,361.52 L1646.35,361.82 L1647.28,362.14 L1648.19,362.48 L1649.11,362.84 L1650.01,363.21 L1650.91,363.59 L1651.80,364.00 L1652.68,364.41 L1653.56,364.84 L1654.43,365.29 L1655.29,365.75 L1656.15,366.22 L1656.99,366.71 L1657.84,367.20 L1658.67,367.72 L1659.50,368.24 L1660.33,368.77 L1661.15,369.32 L1661.96,369.88 L1662.76,370.44 L1663.57,371.02 L1664.36,371.61 L1665.15,372.21 L1665.93,372.81 L1666.71,373.43 L1667.48,374.05 L1668.25,374.69 L1669.01,375.33 L1669.77,375.97 L1670.52,376.63 L1671.27,377.29 L1672.01,377.96 L1672.75,378.63 L1673.48,379.31 L1674.21,379.99 L1674.94,380.68 L1675.66,381.38 L1676.37,382.08 L1677.09,382.78 L1677.79,383.49 L1678.50,384.20 L1679.20,384.91 L1679.89,385.63 L1680.59,386.35 L1681.27,387.07 L1681.96,387.80 L1682.64,388.53 L1683.32,389.27 L1683.99,390.01 L1684.66,390.75 L1685.33,391.49 L1686.00,392.24 L1686.66,392.99 L1687.32,393.74 L1687.97,394.50 L1688.62,395.26 L1689.27,396.02 L1689.92,396.78 L1690.56,397.55 L1691.21,398.32 L1691.84,399.09 L1692.48,399.87 L1693.11,400.64 L1693.75,401.42 L1694.38,402.20 L1695.00,402.98 L1695.63,403.77 L1696.25,404.55 L1696.87,405.34 L1697.49,406.13 L1698.11,406.92 L1698.72,407.72 L1699.34,408.51 L1699.95,409.31 L1700.56,410.11 L1701.17,410.91 L1701.78,411.71 L1702.38,412.51 L1702.99,413.31 L1703.59,414.12 L1704.19,414.92 L1704.80,415.73 L1705.40,416.53 L1706.00,417.34 L1706.59,418.15 L1707.19,418.96 L1707.79,419.77 L1708.39,420.58 L1708.98,421.39 L1709.58,422.20 L1710.17,423.01 L1710.77,423.82 L1711.36,424.64 L1711.96,425.45 L1712.55,426.26 L1713.14,427.07 L1713.74,427.88 L1714.33,428.70 L1714.93,429.51 L1715.52,430.32 L1716.11,431.13 L1716.71,431.94 L1717.30,432.75 L1717.89,433.56 L1718.49,434.38 L1719.08,435.19 L1719.67,436.00 L1720.27,436.81 L1720.86,437.62 L1721.45,438.43 L1722.05,439.24 L1722.64,440.05 L1723.23,440.87 L1723.83,441.68 L1724.42,442.49 L1725.01,443.30 L1725.60,444.11 L1726.20,444.92 L1726.79,445.73 L1727.38,446.54 L1727.97,447.35 L1728.57,448.16 L1729.16,448.97 L1729.75,449.78 L1730.34,450.59 L1730.94,451.40 L1731.53,452.21 L1732.12,453.03 L1732.71,453.84 L1733.30,454.65 L1733.89,455.46 L1734.49,456.27 L1735.08,457.08 L1735.67,457.89 L1736.26,458.70 L1736.85,459.51 L1737.44,460.32 L1738.03,461.13 L1738.63,461.94 L1739.22,462.75 L1739.81,463.56 L1740.40,464.37 L1740.99,465.18 L1741.58,465.99 L1742.17,466.80 L1742.76,467.61 L1743.35,468.42 L1743.94,469.23 L1744.53,470.04 L1745.12,470.85 L1745.71,471.66 L1746.30,472.47 L1746.89,473.29 L1747.48,474.10 L1748.07,474.91 L1748.66,475.72 L1749.25,476.53 L1749.84,477.34 L1750.42,478.15 L1751.01,478.96 L1751.60,479.77 L1752.19,480.58 L1752.78,481.39 L1753.37,482.20 L1753.96,483.01 L1754.54,483.82 L1755.13,484.63 L1755.72,485.44 L1756.31,486.25 L1756.90,487.07 L1757.48,487.88 L1758.07,488.69 L1758.66,489.50 L1759.25,490.31 L1759.83,491.12 L1760.42,491.93 L1761.01,492.74 L1761.59,493.55 L1762.18,494.37 L1762.77,495.18 L1763.35,495.99 L1763.94,496.80 L1764.52,497.61 L1765.11,498.42 L1765.70,499.23 L1766.28,500.05 L1766.87,500.86 L1767.45,501.67 L1768.04,502.48 L1768.62,503.29 L1769.21,504.11 L1769.79,504.92 L1770.38,505.73 L1770.96,506.54 L1771.54,507.36 L1772.13,508.17 L1772.71,508.98 L1773.30,509.79 L1773.88,510.61 L1774.46,511.42 L1775.05,512.23 L1775.63,513.04 L1776.21,513.86 L1776.80,514.67 L1777.38,515.48 L1777.96,516.30 L1778.54,517.11 L1779.13,517.92 L1779.71,518.74 L1780.29,519.55 L1780.87,520.36 L1781.45,521.18 L1782.03,521.99 L1782.62,522.81 L1783.20,523.62 L1783.78,524.43 L1784.36,525.25 L1784.94,526.06 L1785.52,526.88 L1786.10,527.69 L1786.68,528.51 L1787.26,529.32 L1787.84,530.14 L1788.42,530.95 L1789.00,531.77 L1789.58,532.58 L1790.15,533.40 L1790.73,534.21 L1791.31,535.03 L1791.89,535.85 L1792.47,536.66 L1793.05,537.48 L1793.62,538.29 L1794.20,539.11 L1794.78,539.93 L1795.36,540.74 L1795.93,541.56 L1796.51,542.38 L1797.09,543.19 L1797.66,544.01 L1798.24,544.83 L1798.82,545.65 L1799.39,546.46 L1799.97,547.28 L1800.54,548.10 L1801.12,548.92 L1801.69,549.74 L1802.27,550.55 L1802.84,551.37 L1803.42,552.19 L1803.99,553.01 L1804.56,553.83 L1805.14,554.65 L1805.71,555.47 L1806.29,556.29 L1806.86,557.11 L1807.43,557.93 L1808.00,558.75 L1808.58,559.57 L1809.15,560.39 L1809.72,561.21 L1810.29,562.03 L1810.86,562.85 L1811.44,563.67 L1812.01,564.49 L1812.58,565.31 L1813.15,566.13 L1813.72,566.95 L1814.29,567.78 L1814.86,568.60 L1815.43,569.42 L1816.00,570.24 L1816.57,571.07 L1817.14,571.89 L1817.71,572.71 L1818.27,573.53 L1818.84,574.36 L1819.41,575.18 L1819.98,576.01 L1820.55,576.83 L1821.11,577.65 L1821.68,578.48 L1822.25,579.30 L1822.81,580.13 L1823.38,580.95 L1823.95,581.78 L1824.51,582.60 L1825.08,583.43 L1825.64,584.25 L1826.21,585.08 L1826.77,585.91 L1827.34,586.73 L1827.90,587.56 L1828.47,588.39 L1829.03,589.21 L1829.60,590.04 L1830.16,590.87 L1830.72,591.70 L1831.29,592.52 L1831.85,593.35 L1832.41,594.18 L1832.97,595.01 L1833.53,595.84 L1834.10,596.67 L1834.66,597.50 L1835.22,598.33 L1835.78,599.16 L1836.34,599.99 L1836.90,600.82 L1837.46,601.65 L1838.02,602.48 L1838.58,603.31 L1839.14,604.14 L1839.70,604.97 L1840.26,605.80 L1840.81,606.64 L1841.37,607.47 L1841.93,608.30 L1842.49,609.13 L1843.04,609.97 L1843.60,610.80 L1844.16,611.63 L1844.71,612.47 L1845.27,613.30 L1845.83,614.14 L1846.38,614.97 L1846.94,615.80 L1847.49,616.64 L1848.05,617.47 L1848.60,618.31 L1849.16,619.15 L1849.71,619.98 L1850.26,620.82 L1850.82,621.66 L1851.37,622.49 L1851.92,623.33 L1852.47,624.17 L1853.03,625.01 L1853.58,625.84 L1854.13,626.68 L1854.68,627.52 L1855.23,628.36 L1855.78,629.20 L1856.33,630.04 L1856.88,630.88 L1857.43,631.72 L1857.98,632.56 L1858.53,633.40 L1859.08,634.24 L1859.62,635.08 L1860.17,635.92" fill="none" stroke="#1f77b4" stroke-width="4.0" stroke-linejoin="round" stroke-linecap="butt" />
<circle cx="1463.70" cy="30.80" r="5.5" fill="#1f77b4"/>
<line x1="1430.50" y1="147.90" x2="1454.50" y2="147.90" stroke="#000" stroke-width="2.1"/><path d="M1425.45,147.90 L1431.50,144.40 L1431.50,151.40 Z" fill="#000" stroke="#000" stroke-width="1" stroke-linejoin="round"/><path d="M1459.55,147.90 L1453.50,144.40 L1453.50,151.40 Z" fill="#000" stroke="#000" stroke-width="1" stroke-linejoin="round"/>
<line x1="1472.80" y1="147.90" x2="1521.70" y2="147.90" stroke="#000" stroke-width="2.1"/><path d="M1467.75,147.90 L1473.80,144.40 L1473.80,151.40 Z" fill="#000" stroke="#000" stroke-width="1" stroke-linejoin="round"/><path d="M1526.75,147.90 L1520.70,144.40 L1520.70,151.40 Z" fill="#000" stroke="#000" stroke-width="1" stroke-linejoin="round"/>
<line x1="1411.70" y1="282.90" x2="1454.80" y2="282.90" stroke="#000" stroke-width="2.1"/><path d="M1406.65,282.90 L1412.70,279.40 L1412.70,286.40 Z" fill="#000" stroke="#000" stroke-width="1" stroke-linejoin="round"/><path d="M1459.85,282.90 L1453.80,279.40 L1453.80,286.40 Z" fill="#000" stroke="#000" stroke-width="1" stroke-linejoin="round"/>
<line x1="1472.40" y1="282.90" x2="1559.00" y2="282.90" stroke="#000" stroke-width="2.1"/><path d="M1467.35,282.90 L1473.40,279.40 L1473.40,286.40 Z" fill="#000" stroke="#000" stroke-width="1" stroke-linejoin="round"/><path d="M1564.05,282.90 L1558.00,279.40 L1558.00,286.40 Z" fill="#000" stroke="#000" stroke-width="1" stroke-linejoin="round"/>
<line x1="1387.30" y1="480.10" x2="1454.40" y2="480.10" stroke="#000" stroke-width="2.1"/><path d="M1382.25,480.10 L1388.30,476.60 L1388.30,483.60 Z" fill="#000" stroke="#000" stroke-width="1" stroke-linejoin="round"/><path d="M1459.45,480.10 L1453.40,476.60 L1453.40,483.60 Z" fill="#000" stroke="#000" stroke-width="1" stroke-linejoin="round"/>
<line x1="1472.60" y1="480.10" x2="1741.90" y2="480.10" stroke="#000" stroke-width="2.1"/><path d="M1467.55,480.10 L1473.60,476.60 L1473.60,483.60 Z" fill="#000" stroke="#000" stroke-width="1" stroke-linejoin="round"/><path d="M1746.95,480.10 L1740.90,476.60 L1740.90,483.60 Z" fill="#000" stroke="#000" stroke-width="1" stroke-linejoin="round"/>
<text class="m" transform="translate(0,155.30) scale(1,0.975)"><tspan x="1348.15" y="-0.70" style="font-style:italic;font-size:26.30px">S</tspan><tspan x="1364.81" y="-0.70" style="font-style:italic;font-size:26.30px">W</tspan></text><text class="m" transform="translate(0,159.32) scale(1,1.08)"><tspan x="1390.76" y="0" style="font-size:18.41px">7</tspan><tspan x="1402.45" y="0" style="font-size:18.41px">5</tspan></text>
<text class="m" transform="translate(0,153.55) scale(1,0.975)"><tspan x="1537.59" y="-0.05" style="font-style:italic;font-size:26.30px">D</tspan><tspan x="1557.81" y="-0.05" style="font-style:italic;font-size:26.30px">W</tspan></text><text class="m" transform="translate(0,158.22) scale(1,1.08)"><tspan x="1583.76" y="0" style="font-size:18.41px">7</tspan><tspan x="1595.45" y="0" style="font-size:18.41px">5</tspan></text>
<text class="m" transform="translate(0,290.00) scale(1,0.975)"><tspan x="1329.85" y="-0.70" style="font-style:italic;font-size:26.30px">S</tspan><tspan x="1346.51" y="-0.70" style="font-style:italic;font-size:26.30px">W</tspan></text><text class="m" transform="translate(0,294.02) scale(1,1.08)"><tspan x="1372.46" y="0" style="font-size:18.41px">5</tspan><tspan x="1384.15" y="0" style="font-size:18.41px">0</tspan></text>
<text class="m" transform="translate(0,288.65) scale(1,0.975)"><tspan x="1574.09" y="-0.05" style="font-style:italic;font-size:26.30px">D</tspan><tspan x="1594.31" y="-0.05" style="font-style:italic;font-size:26.30px">W</tspan></text><text class="m" transform="translate(0,293.32) scale(1,1.08)"><tspan x="1620.26" y="0" style="font-size:18.41px">5</tspan><tspan x="1631.95" y="0" style="font-size:18.41px">0</tspan></text>
<text class="m" transform="translate(0,511.20) scale(1,0.975)"><tspan x="1393.85" y="-0.70" style="font-style:italic;font-size:26.30px">S</tspan><tspan x="1410.51" y="-0.70" style="font-style:italic;font-size:26.30px">W</tspan></text><text class="m" transform="translate(0,515.22) scale(1,1.08)"><tspan x="1436.46" y="0" style="font-size:18.41px">2</tspan><tspan x="1448.15" y="0" style="font-size:18.41px">5</tspan></text>
<text class="m" transform="translate(0,510.55) scale(1,0.975)"><tspan x="1569.79" y="-0.05" style="font-style:italic;font-size:26.30px">D</tspan><tspan x="1590.01" y="-0.05" style="font-style:italic;font-size:26.30px">W</tspan></text><text class="m" transform="translate(0,515.22) scale(1,1.08)"><tspan x="1615.96" y="0" style="font-size:18.41px">2</tspan><tspan x="1627.65" y="0" style="font-size:18.41px">5</tspan></text>
</svg></body></html>
